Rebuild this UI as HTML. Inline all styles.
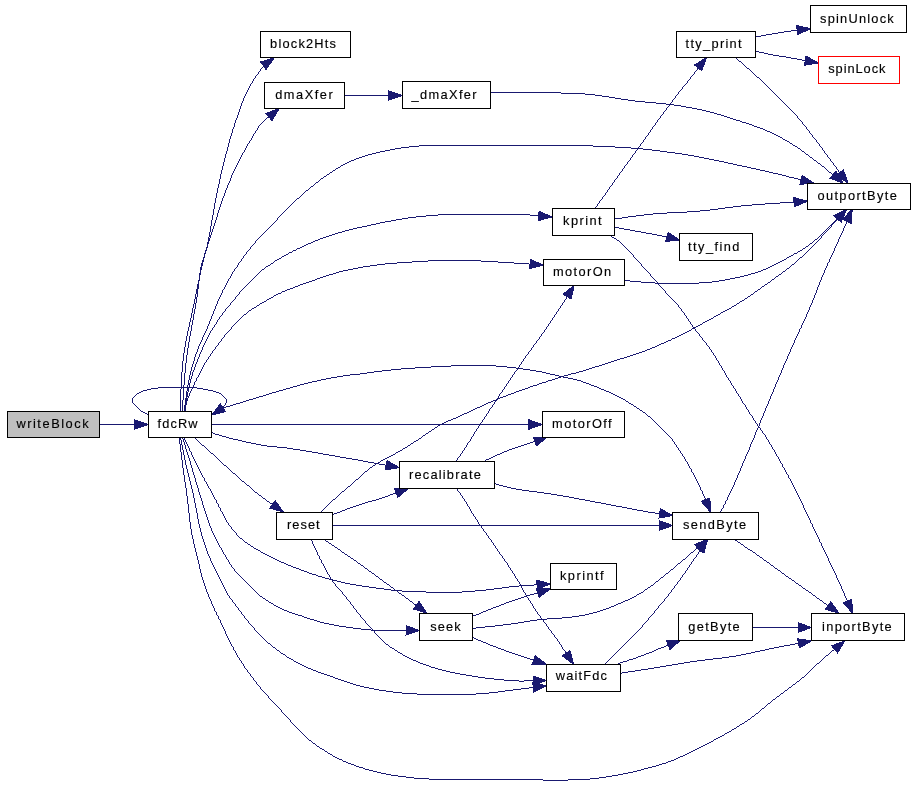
<!DOCTYPE html>
<html><head><meta charset="utf-8"><style>
html,body{margin:0;padding:0;background:#fff;width:915px;height:797px;overflow:hidden}
svg{display:block;will-change:transform}
text{font-family:"Liberation Sans",sans-serif;font-size:12.8px;fill:#000;stroke:#000;stroke-width:0.15px}
</style></head><body>
<svg width="915" height="797" viewBox="0 0 915 797">
<rect x="0" y="0" width="915" height="797" fill="#fff"/>

<g fill="none" stroke="#191970" stroke-width="1" shape-rendering="crispEdges">
</g>
<path fill="#191970" shape-rendering="crispEdges" d="M791 30h7v1h-7zM784 31h7v1h-7zM778 32h6v1h-6zM772 33h6v1h-6zM766 34h6v1h-6zM761 35h5v1h-5zM756 36h5v1h-5zM755 37h1v1h-1zM755 51h4v1h-4zM759 52h5v1h-5zM764 53h4v1h-4zM768 54h5v1h-5zM773 55h6v1h-6zM779 56h7v1h-7zM735 57h1v1h-1zM786 57h5v1h-5zM736 58h1v1h-1zM791 58h6v1h-6zM737 59h1v1h-1zM797 59h5v1h-5zM738 60h1v1h-1zM802 60h4v1h-4zM739 61h2v1h-2zM741 62h1v1h-1zM742 63h1v1h-1zM743 64h1v1h-1zM263 65h1v1h-1zM744 65h1v1h-1zM263 66h1v1h-1zM745 66h1v1h-1zM262 67h1v1h-1zM698 67h1v1h-1zM746 67h1v1h-1zM261 68h1v1h-1zM697 68h1v1h-1zM747 68h2v1h-2zM260 69h1v1h-1zM697 69h1v1h-1zM749 69h1v1h-1zM260 70h1v1h-1zM696 70h1v1h-1zM750 70h1v1h-1zM259 71h1v1h-1zM695 71h1v1h-1zM751 71h1v1h-1zM258 72h1v1h-1zM694 72h1v1h-1zM752 72h1v1h-1zM258 73h1v1h-1zM694 73h1v1h-1zM753 73h1v1h-1zM257 74h1v1h-1zM693 74h1v1h-1zM754 74h1v1h-1zM256 75h1v1h-1zM692 75h1v1h-1zM755 75h1v1h-1zM255 76h1v1h-1zM691 76h1v1h-1zM756 76h1v1h-1zM255 77h1v1h-1zM690 77h1v1h-1zM757 77h2v1h-2zM254 78h1v1h-1zM690 78h1v1h-1zM759 78h1v1h-1zM253 79h1v1h-1zM689 79h1v1h-1zM760 79h1v1h-1zM253 80h1v1h-1zM688 80h1v1h-1zM761 80h1v1h-1zM252 81h1v1h-1zM687 81h1v1h-1zM762 81h1v1h-1zM252 82h1v1h-1zM687 82h1v1h-1zM763 82h1v1h-1zM251 83h1v1h-1zM686 83h1v1h-1zM764 83h1v1h-1zM250 84h1v1h-1zM685 84h1v1h-1zM765 84h1v1h-1zM250 85h1v1h-1zM684 85h1v1h-1zM766 85h1v1h-1zM249 86h1v1h-1zM683 86h1v1h-1zM767 86h1v1h-1zM249 87h1v1h-1zM682 87h1v1h-1zM768 87h1v1h-1zM248 88h1v1h-1zM682 88h1v1h-1zM769 88h1v1h-1zM248 89h1v1h-1zM681 89h1v1h-1zM770 89h1v1h-1zM247 90h1v1h-1zM680 90h1v1h-1zM771 90h1v1h-1zM247 91h1v1h-1zM679 91h1v1h-1zM772 91h1v1h-1zM246 92h1v1h-1zM490 92h71v1h-71zM678 92h1v1h-1zM773 92h1v1h-1zM246 93h1v1h-1zM561 93h24v1h-24zM678 93h1v1h-1zM774 93h1v1h-1zM245 94h1v1h-1zM585 94h10v1h-10zM677 94h1v1h-1zM775 94h1v1h-1zM245 95h1v1h-1zM344 95h45v1h-45zM595 95h7v1h-7zM676 95h1v1h-1zM776 95h1v1h-1zM244 96h1v1h-1zM602 96h7v1h-7zM675 96h1v1h-1zM777 96h1v1h-1zM244 97h1v1h-1zM609 97h6v1h-6zM675 97h1v1h-1zM778 97h1v1h-1zM243 98h1v1h-1zM615 98h6v1h-6zM674 98h1v1h-1zM779 98h1v1h-1zM243 99h1v1h-1zM621 99h7v1h-7zM673 99h1v1h-1zM780 99h1v1h-1zM243 100h1v1h-1zM628 100h7v1h-7zM672 100h1v1h-1zM781 100h1v1h-1zM242 101h1v1h-1zM635 101h10v1h-10zM672 101h1v1h-1zM782 101h1v1h-1zM242 102h1v1h-1zM645 102h11v1h-11zM671 102h1v1h-1zM783 102h1v1h-1zM241 103h1v1h-1zM656 103h10v1h-10zM670 103h1v1h-1zM784 103h1v1h-1zM241 104h1v1h-1zM666 104h8v1h-8zM785 104h1v1h-1zM241 105h1v1h-1zM669 105h1v1h-1zM674 105h7v1h-7zM786 105h1v1h-1zM240 106h1v1h-1zM668 106h1v1h-1zM681 106h5v1h-5zM787 106h1v1h-1zM240 107h1v1h-1zM667 107h1v1h-1zM686 107h6v1h-6zM788 107h1v1h-1zM240 108h1v1h-1zM666 108h1v1h-1zM692 108h5v1h-5zM789 108h1v1h-1zM239 109h1v1h-1zM666 109h1v1h-1zM697 109h5v1h-5zM790 109h1v1h-1zM239 110h1v1h-1zM665 110h1v1h-1zM702 110h4v1h-4zM791 110h1v1h-1zM239 111h1v1h-1zM664 111h1v1h-1zM706 111h4v1h-4zM792 111h1v1h-1zM238 112h1v1h-1zM663 112h1v1h-1zM710 112h4v1h-4zM793 112h1v1h-1zM238 113h1v1h-1zM663 113h1v1h-1zM714 113h3v1h-3zM794 113h1v1h-1zM238 114h1v1h-1zM662 114h1v1h-1zM717 114h4v1h-4zM795 114h1v1h-1zM237 115h1v1h-1zM661 115h1v1h-1zM721 115h3v1h-3zM796 115h1v1h-1zM237 116h1v1h-1zM660 116h1v1h-1zM724 116h3v1h-3zM797 116h1v1h-1zM237 117h1v1h-1zM267 117h3v1h-3zM660 117h1v1h-1zM727 117h3v1h-3zM797 117h1v1h-1zM236 118h1v1h-1zM266 118h1v1h-1zM659 118h1v1h-1zM730 118h3v1h-3zM798 118h1v1h-1zM236 119h1v1h-1zM265 119h1v1h-1zM658 119h1v1h-1zM733 119h3v1h-3zM799 119h1v1h-1zM235 120h1v1h-1zM264 120h1v1h-1zM657 120h1v1h-1zM736 120h4v1h-4zM800 120h1v1h-1zM235 121h1v1h-1zM263 121h1v1h-1zM657 121h1v1h-1zM740 121h2v1h-2zM801 121h1v1h-1zM235 122h1v1h-1zM262 122h1v1h-1zM656 122h1v1h-1zM742 122h4v1h-4zM802 122h1v1h-1zM234 123h1v1h-1zM261 123h1v1h-1zM655 123h1v1h-1zM746 123h3v1h-3zM802 123h1v1h-1zM234 124h1v1h-1zM260 124h1v1h-1zM655 124h1v1h-1zM749 124h3v1h-3zM803 124h1v1h-1zM234 125h1v1h-1zM259 125h1v1h-1zM654 125h1v1h-1zM752 125h2v1h-2zM804 125h1v1h-1zM234 126h1v1h-1zM258 126h1v1h-1zM653 126h1v1h-1zM754 126h3v1h-3zM805 126h1v1h-1zM233 127h1v1h-1zM258 127h1v1h-1zM652 127h1v1h-1zM757 127h3v1h-3zM806 127h1v1h-1zM233 128h1v1h-1zM257 128h1v1h-1zM652 128h1v1h-1zM760 128h3v1h-3zM806 128h1v1h-1zM232 129h1v1h-1zM257 129h1v1h-1zM651 129h1v1h-1zM763 129h2v1h-2zM807 129h1v1h-1zM232 130h1v1h-1zM256 130h1v1h-1zM650 130h1v1h-1zM765 130h2v1h-2zM808 130h1v1h-1zM232 131h1v1h-1zM255 131h1v1h-1zM650 131h1v1h-1zM767 131h3v1h-3zM809 131h1v1h-1zM232 132h1v1h-1zM255 132h1v1h-1zM649 132h1v1h-1zM770 132h2v1h-2zM809 132h1v1h-1zM231 133h1v1h-1zM254 133h1v1h-1zM648 133h1v1h-1zM772 133h2v1h-2zM810 133h1v1h-1zM231 134h1v1h-1zM253 134h1v1h-1zM648 134h1v1h-1zM774 134h2v1h-2zM811 134h1v1h-1zM231 135h1v1h-1zM253 135h1v1h-1zM647 135h1v1h-1zM776 135h2v1h-2zM812 135h1v1h-1zM230 136h1v1h-1zM252 136h1v1h-1zM646 136h1v1h-1zM778 136h2v1h-2zM812 136h1v1h-1zM230 137h1v1h-1zM252 137h1v1h-1zM645 137h1v1h-1zM780 137h2v1h-2zM813 137h1v1h-1zM230 138h1v1h-1zM251 138h1v1h-1zM645 138h1v1h-1zM782 138h1v1h-1zM814 138h1v1h-1zM229 139h1v1h-1zM251 139h1v1h-1zM644 139h1v1h-1zM783 139h2v1h-2zM815 139h1v1h-1zM229 140h1v1h-1zM250 140h1v1h-1zM643 140h1v1h-1zM785 140h2v1h-2zM816 140h1v1h-1zM229 141h1v1h-1zM249 141h1v1h-1zM643 141h1v1h-1zM787 141h2v1h-2zM816 141h1v1h-1zM229 142h1v1h-1zM249 142h1v1h-1zM642 142h1v1h-1zM789 142h1v1h-1zM817 142h1v1h-1zM228 143h1v1h-1zM248 143h1v1h-1zM641 143h1v1h-1zM790 143h2v1h-2zM818 143h1v1h-1zM228 144h1v1h-1zM247 144h1v1h-1zM640 144h1v1h-1zM792 144h1v1h-1zM819 144h1v1h-1zM228 145h1v1h-1zM247 145h1v1h-1zM419 145h174v1h-174zM640 145h1v1h-1zM793 145h2v1h-2zM819 145h1v1h-1zM228 146h1v1h-1zM246 146h1v1h-1zM409 146h10v1h-10zM593 146h22v1h-22zM639 146h1v1h-1zM795 146h2v1h-2zM820 146h1v1h-1zM227 147h1v1h-1zM246 147h1v1h-1zM401 147h8v1h-8zM615 147h16v1h-16zM638 147h1v1h-1zM797 147h1v1h-1zM821 147h1v1h-1zM227 148h1v1h-1zM245 148h1v1h-1zM395 148h6v1h-6zM631 148h12v1h-12zM798 148h2v1h-2zM822 148h1v1h-1zM227 149h1v1h-1zM245 149h1v1h-1zM390 149h5v1h-5zM637 149h1v1h-1zM643 149h9v1h-9zM800 149h1v1h-1zM822 149h1v1h-1zM227 150h1v1h-1zM244 150h1v1h-1zM385 150h5v1h-5zM636 150h1v1h-1zM652 150h8v1h-8zM801 150h1v1h-1zM823 150h1v1h-1zM226 151h1v1h-1zM244 151h1v1h-1zM380 151h5v1h-5zM635 151h1v1h-1zM660 151h7v1h-7zM802 151h2v1h-2zM824 151h1v1h-1zM226 152h1v1h-1zM243 152h1v1h-1zM376 152h4v1h-4zM635 152h1v1h-1zM667 152h8v1h-8zM804 152h1v1h-1zM824 152h1v1h-1zM226 153h1v1h-1zM242 153h1v1h-1zM372 153h4v1h-4zM634 153h1v1h-1zM675 153h7v1h-7zM805 153h1v1h-1zM825 153h1v1h-1zM225 154h1v1h-1zM242 154h1v1h-1zM368 154h4v1h-4zM633 154h1v1h-1zM682 154h6v1h-6zM806 154h2v1h-2zM826 154h1v1h-1zM225 155h1v1h-1zM241 155h1v1h-1zM365 155h3v1h-3zM632 155h1v1h-1zM688 155h6v1h-6zM808 155h1v1h-1zM827 155h1v1h-1zM225 156h1v1h-1zM241 156h1v1h-1zM362 156h3v1h-3zM632 156h1v1h-1zM694 156h5v1h-5zM809 156h1v1h-1zM827 156h1v1h-1zM225 157h1v1h-1zM240 157h1v1h-1zM359 157h3v1h-3zM631 157h1v1h-1zM699 157h5v1h-5zM810 157h2v1h-2zM828 157h1v1h-1zM224 158h1v1h-1zM240 158h1v1h-1zM356 158h3v1h-3zM630 158h1v1h-1zM704 158h5v1h-5zM812 158h1v1h-1zM829 158h1v1h-1zM224 159h1v1h-1zM239 159h1v1h-1zM354 159h2v1h-2zM630 159h1v1h-1zM709 159h5v1h-5zM813 159h1v1h-1zM830 159h1v1h-1zM224 160h1v1h-1zM239 160h1v1h-1zM351 160h3v1h-3zM629 160h1v1h-1zM714 160h5v1h-5zM814 160h2v1h-2zM830 160h1v1h-1zM224 161h1v1h-1zM238 161h1v1h-1zM349 161h2v1h-2zM628 161h1v1h-1zM719 161h5v1h-5zM816 161h1v1h-1zM831 161h1v1h-1zM223 162h1v1h-1zM238 162h1v1h-1zM347 162h2v1h-2zM627 162h1v1h-1zM724 162h4v1h-4zM817 162h1v1h-1zM832 162h1v1h-1zM223 163h1v1h-1zM237 163h1v1h-1zM345 163h2v1h-2zM627 163h1v1h-1zM728 163h5v1h-5zM818 163h2v1h-2zM833 163h1v1h-1zM223 164h1v1h-1zM237 164h1v1h-1zM343 164h2v1h-2zM626 164h1v1h-1zM733 164h4v1h-4zM820 164h1v1h-1zM833 164h1v1h-1zM223 165h1v1h-1zM236 165h1v1h-1zM341 165h2v1h-2zM625 165h1v1h-1zM737 165h5v1h-5zM821 165h1v1h-1zM834 165h1v1h-1zM222 166h1v1h-1zM236 166h1v1h-1zM340 166h1v1h-1zM624 166h1v1h-1zM742 166h5v1h-5zM822 166h2v1h-2zM835 166h1v1h-1zM222 167h1v1h-1zM235 167h1v1h-1zM338 167h2v1h-2zM624 167h1v1h-1zM747 167h4v1h-4zM824 167h1v1h-1zM836 167h1v1h-1zM222 168h1v1h-1zM235 168h1v1h-1zM336 168h2v1h-2zM623 168h1v1h-1zM751 168h5v1h-5zM825 168h1v1h-1zM836 168h1v1h-1zM222 169h1v1h-1zM234 169h1v1h-1zM335 169h1v1h-1zM622 169h1v1h-1zM756 169h4v1h-4zM826 169h1v1h-1zM837 169h1v1h-1zM221 170h1v1h-1zM234 170h1v1h-1zM333 170h2v1h-2zM622 170h1v1h-1zM760 170h5v1h-5zM827 170h1v1h-1zM838 170h1v1h-1zM221 171h1v1h-1zM233 171h1v1h-1zM332 171h1v1h-1zM621 171h1v1h-1zM765 171h4v1h-4zM828 171h1v1h-1zM838 171h1v1h-1zM221 172h1v1h-1zM233 172h1v1h-1zM330 172h2v1h-2zM620 172h1v1h-1zM769 172h4v1h-4zM829 172h2v1h-2zM839 172h1v1h-1zM221 173h1v1h-1zM232 173h1v1h-1zM329 173h1v1h-1zM619 173h1v1h-1zM773 173h5v1h-5zM831 173h1v1h-1zM220 174h1v1h-1zM232 174h1v1h-1zM327 174h2v1h-2zM619 174h1v1h-1zM778 174h4v1h-4zM832 174h1v1h-1zM220 175h1v1h-1zM231 175h1v1h-1zM326 175h1v1h-1zM618 175h1v1h-1zM782 175h4v1h-4zM220 176h1v1h-1zM231 176h1v1h-1zM324 176h2v1h-2zM617 176h1v1h-1zM786 176h3v1h-3zM220 177h1v1h-1zM231 177h1v1h-1zM323 177h1v1h-1zM617 177h1v1h-1zM789 177h5v1h-5zM220 178h1v1h-1zM230 178h1v1h-1zM321 178h2v1h-2zM616 178h1v1h-1zM794 178h4v1h-4zM219 179h1v1h-1zM230 179h1v1h-1zM320 179h1v1h-1zM615 179h1v1h-1zM798 179h4v1h-4zM219 180h1v1h-1zM230 180h1v1h-1zM319 180h1v1h-1zM614 180h1v1h-1zM219 181h1v1h-1zM229 181h1v1h-1zM318 181h1v1h-1zM614 181h1v1h-1zM219 182h1v1h-1zM229 182h1v1h-1zM316 182h2v1h-2zM613 182h1v1h-1zM219 183h1v1h-1zM228 183h1v1h-1zM315 183h1v1h-1zM612 183h1v1h-1zM218 184h1v1h-1zM228 184h1v1h-1zM314 184h1v1h-1zM612 184h1v1h-1zM218 185h1v1h-1zM227 185h1v1h-1zM313 185h1v1h-1zM611 185h1v1h-1zM218 186h1v1h-1zM227 186h1v1h-1zM311 186h2v1h-2zM610 186h1v1h-1zM218 187h1v1h-1zM227 187h1v1h-1zM310 187h1v1h-1zM609 187h1v1h-1zM217 188h1v1h-1zM226 188h1v1h-1zM309 188h1v1h-1zM609 188h1v1h-1zM217 189h1v1h-1zM226 189h1v1h-1zM308 189h1v1h-1zM608 189h1v1h-1zM217 190h1v1h-1zM225 190h1v1h-1zM306 190h2v1h-2zM607 190h1v1h-1zM217 191h1v1h-1zM225 191h1v1h-1zM305 191h1v1h-1zM607 191h1v1h-1zM217 192h1v1h-1zM225 192h1v1h-1zM304 192h1v1h-1zM606 192h1v1h-1zM216 193h1v1h-1zM224 193h1v1h-1zM303 193h1v1h-1zM605 193h1v1h-1zM216 194h1v1h-1zM224 194h1v1h-1zM302 194h1v1h-1zM605 194h1v1h-1zM216 195h1v1h-1zM224 195h1v1h-1zM301 195h1v1h-1zM604 195h1v1h-1zM216 196h1v1h-1zM223 196h1v1h-1zM300 196h1v1h-1zM603 196h1v1h-1zM216 197h1v1h-1zM223 197h1v1h-1zM299 197h1v1h-1zM602 197h1v1h-1zM215 198h1v1h-1zM222 198h1v1h-1zM297 198h2v1h-2zM602 198h1v1h-1zM215 199h1v1h-1zM222 199h1v1h-1zM296 199h1v1h-1zM601 199h1v1h-1zM215 200h1v1h-1zM222 200h1v1h-1zM295 200h1v1h-1zM600 200h1v1h-1zM215 201h1v1h-1zM221 201h1v1h-1zM294 201h1v1h-1zM599 201h1v1h-1zM215 202h1v1h-1zM221 202h1v1h-1zM293 202h1v1h-1zM599 202h1v1h-1zM780 202h15v1h-15zM214 203h1v1h-1zM221 203h1v1h-1zM292 203h1v1h-1zM598 203h1v1h-1zM765 203h15v1h-15zM214 204h1v1h-1zM220 204h1v1h-1zM291 204h1v1h-1zM597 204h1v1h-1zM752 204h13v1h-13zM214 205h1v1h-1zM220 205h1v1h-1zM290 205h1v1h-1zM597 205h1v1h-1zM741 205h11v1h-11zM214 206h1v1h-1zM220 206h1v1h-1zM289 206h1v1h-1zM596 206h1v1h-1zM733 206h8v1h-8zM214 207h1v1h-1zM219 207h1v1h-1zM288 207h1v1h-1zM595 207h1v1h-1zM725 207h8v1h-8zM214 208h1v1h-1zM219 208h1v1h-1zM287 208h1v1h-1zM594 208h1v1h-1zM718 208h7v1h-7zM213 209h1v1h-1zM219 209h1v1h-1zM286 209h1v1h-1zM710 209h8v1h-8zM213 210h1v1h-1zM218 210h1v1h-1zM285 210h1v1h-1zM700 210h10v1h-10zM213 211h1v1h-1zM218 211h1v1h-1zM284 211h1v1h-1zM687 211h13v1h-13zM213 212h1v1h-1zM218 212h1v1h-1zM283 212h1v1h-1zM667 212h20v1h-20zM213 213h1v1h-1zM217 213h1v1h-1zM282 213h1v1h-1zM653 213h14v1h-14zM213 214h1v1h-1zM217 214h1v1h-1zM281 214h1v1h-1zM438 214h92v1h-92zM644 214h9v1h-9zM212 215h1v1h-1zM217 215h1v1h-1zM280 215h1v1h-1zM426 215h12v1h-12zM530 215h9v1h-9zM636 215h8v1h-8zM212 216h1v1h-1zM217 216h1v1h-1zM279 216h1v1h-1zM416 216h10v1h-10zM628 216h8v1h-8zM212 217h1v1h-1zM216 217h1v1h-1zM278 217h1v1h-1zM408 217h8v1h-8zM622 217h6v1h-6zM212 218h1v1h-1zM216 218h1v1h-1zM277 218h1v1h-1zM402 218h6v1h-6zM615 218h7v1h-7zM837 218h1v1h-1zM212 219h1v1h-1zM216 219h1v1h-1zM277 219h1v1h-1zM396 219h6v1h-6zM614 219h1v1h-1zM836 219h2v1h-2zM211 220h1v1h-1zM215 220h1v1h-1zM276 220h1v1h-1zM391 220h5v1h-5zM835 220h2v1h-2zM211 221h1v1h-1zM215 221h1v1h-1zM275 221h1v1h-1zM385 221h6v1h-6zM834 221h2v1h-2zM846 221h1v1h-1zM211 222h1v1h-1zM215 222h1v1h-1zM274 222h1v1h-1zM380 222h5v1h-5zM833 222h2v1h-2zM846 222h1v1h-1zM211 223h1v1h-1zM214 223h1v1h-1zM273 223h1v1h-1zM376 223h4v1h-4zM832 223h2v1h-2zM846 223h1v1h-1zM211 224h1v1h-1zM214 224h1v1h-1zM272 224h1v1h-1zM371 224h5v1h-5zM831 224h2v1h-2zM845 224h1v1h-1zM211 225h1v1h-1zM214 225h1v1h-1zM271 225h1v1h-1zM367 225h4v1h-4zM830 225h2v1h-2zM845 225h1v1h-1zM210 226h1v1h-1zM213 226h1v1h-1zM270 226h1v1h-1zM362 226h5v1h-5zM829 226h1v1h-1zM831 226h1v1h-1zM844 226h1v1h-1zM210 227h1v1h-1zM213 227h1v1h-1zM269 227h1v1h-1zM357 227h5v1h-5zM614 227h5v1h-5zM828 227h1v1h-1zM830 227h1v1h-1zM844 227h1v1h-1zM210 228h1v1h-1zM213 228h1v1h-1zM268 228h1v1h-1zM353 228h4v1h-4zM619 228h5v1h-5zM827 228h1v1h-1zM829 228h1v1h-1zM843 228h1v1h-1zM210 229h1v1h-1zM212 229h1v1h-1zM267 229h1v1h-1zM349 229h4v1h-4zM624 229h6v1h-6zM826 229h1v1h-1zM828 229h1v1h-1zM843 229h1v1h-1zM210 230h1v1h-1zM212 230h1v1h-1zM266 230h1v1h-1zM345 230h4v1h-4zM630 230h5v1h-5zM825 230h1v1h-1zM827 230h1v1h-1zM843 230h1v1h-1zM210 231h1v1h-1zM212 231h1v1h-1zM265 231h1v1h-1zM342 231h3v1h-3zM635 231h6v1h-6zM824 231h1v1h-1zM826 231h1v1h-1zM842 231h1v1h-1zM209 232h1v1h-1zM211 232h1v1h-1zM264 232h1v1h-1zM338 232h4v1h-4zM641 232h5v1h-5zM823 232h1v1h-1zM825 232h1v1h-1zM842 232h1v1h-1zM209 233h1v1h-1zM211 233h1v1h-1zM263 233h1v1h-1zM335 233h3v1h-3zM646 233h6v1h-6zM822 233h1v1h-1zM824 233h1v1h-1zM841 233h1v1h-1zM209 234h1v1h-1zM211 234h1v1h-1zM262 234h1v1h-1zM332 234h3v1h-3zM652 234h5v1h-5zM821 234h1v1h-1zM823 234h1v1h-1zM841 234h1v1h-1zM209 235h2v1h-2zM261 235h1v1h-1zM329 235h3v1h-3zM657 235h5v1h-5zM820 235h1v1h-1zM822 235h1v1h-1zM840 235h1v1h-1zM209 236h2v1h-2zM260 236h1v1h-1zM326 236h3v1h-3zM611 236h1v1h-1zM662 236h5v1h-5zM819 236h1v1h-1zM821 236h1v1h-1zM840 236h1v1h-1zM208 237h1v1h-1zM210 237h1v1h-1zM259 237h1v1h-1zM323 237h3v1h-3zM612 237h2v1h-2zM818 237h1v1h-1zM821 237h1v1h-1zM839 237h1v1h-1zM208 238h2v1h-2zM258 238h1v1h-1zM320 238h3v1h-3zM614 238h2v1h-2zM817 238h1v1h-1zM820 238h1v1h-1zM839 238h1v1h-1zM208 239h2v1h-2zM257 239h1v1h-1zM318 239h2v1h-2zM616 239h1v1h-1zM815 239h2v1h-2zM819 239h1v1h-1zM838 239h1v1h-1zM208 240h2v1h-2zM256 240h1v1h-1zM315 240h3v1h-3zM617 240h2v1h-2zM814 240h1v1h-1zM818 240h1v1h-1zM838 240h1v1h-1zM208 241h1v1h-1zM255 241h1v1h-1zM313 241h2v1h-2zM619 241h1v1h-1zM813 241h1v1h-1zM817 241h1v1h-1zM838 241h1v1h-1zM207 242h2v1h-2zM255 242h1v1h-1zM311 242h2v1h-2zM620 242h1v1h-1zM812 242h1v1h-1zM816 242h1v1h-1zM837 242h1v1h-1zM207 243h2v1h-2zM254 243h1v1h-1zM308 243h3v1h-3zM621 243h1v1h-1zM810 243h2v1h-2zM815 243h1v1h-1zM837 243h1v1h-1zM207 244h1v1h-1zM253 244h1v1h-1zM306 244h2v1h-2zM622 244h1v1h-1zM809 244h1v1h-1zM814 244h1v1h-1zM836 244h1v1h-1zM207 245h1v1h-1zM252 245h1v1h-1zM304 245h2v1h-2zM623 245h1v1h-1zM808 245h1v1h-1zM813 245h1v1h-1zM836 245h1v1h-1zM207 246h1v1h-1zM251 246h1v1h-1zM302 246h2v1h-2zM624 246h1v1h-1zM806 246h2v1h-2zM812 246h1v1h-1zM835 246h1v1h-1zM206 247h2v1h-2zM250 247h1v1h-1zM300 247h2v1h-2zM625 247h1v1h-1zM805 247h1v1h-1zM811 247h1v1h-1zM835 247h1v1h-1zM206 248h1v1h-1zM250 248h1v1h-1zM297 248h3v1h-3zM626 248h1v1h-1zM803 248h2v1h-2zM810 248h1v1h-1zM834 248h1v1h-1zM206 249h1v1h-1zM249 249h1v1h-1zM296 249h1v1h-1zM627 249h1v1h-1zM802 249h1v1h-1zM809 249h1v1h-1zM834 249h1v1h-1zM205 250h2v1h-2zM248 250h1v1h-1zM293 250h3v1h-3zM628 250h1v1h-1zM800 250h2v1h-2zM808 250h1v1h-1zM834 250h1v1h-1zM205 251h1v1h-1zM247 251h1v1h-1zM292 251h1v1h-1zM629 251h1v1h-1zM798 251h2v1h-2zM807 251h1v1h-1zM833 251h1v1h-1zM205 252h1v1h-1zM246 252h1v1h-1zM289 252h3v1h-3zM630 252h1v1h-1zM797 252h1v1h-1zM806 252h1v1h-1zM833 252h1v1h-1zM204 253h2v1h-2zM246 253h1v1h-1zM288 253h1v1h-1zM631 253h1v1h-1zM794 253h3v1h-3zM805 253h1v1h-1zM832 253h1v1h-1zM204 254h1v1h-1zM245 254h1v1h-1zM286 254h2v1h-2zM632 254h1v1h-1zM793 254h1v1h-1zM804 254h1v1h-1zM832 254h1v1h-1zM204 255h1v1h-1zM244 255h1v1h-1zM284 255h2v1h-2zM633 255h1v1h-1zM791 255h2v1h-2zM803 255h1v1h-1zM831 255h1v1h-1zM204 256h1v1h-1zM243 256h1v1h-1zM282 256h2v1h-2zM633 256h1v1h-1zM789 256h2v1h-2zM802 256h1v1h-1zM831 256h1v1h-1zM203 257h2v1h-2zM243 257h1v1h-1zM281 257h1v1h-1zM634 257h1v1h-1zM787 257h2v1h-2zM800 257h2v1h-2zM830 257h1v1h-1zM203 258h1v1h-1zM242 258h1v1h-1zM279 258h2v1h-2zM635 258h1v1h-1zM786 258h1v1h-1zM799 258h1v1h-1zM830 258h1v1h-1zM203 259h1v1h-1zM241 259h1v1h-1zM277 259h2v1h-2zM636 259h1v1h-1zM784 259h2v1h-2zM798 259h1v1h-1zM829 259h1v1h-1zM202 260h2v1h-2zM241 260h1v1h-1zM275 260h2v1h-2zM428 260h53v1h-53zM637 260h1v1h-1zM782 260h2v1h-2zM797 260h1v1h-1zM829 260h1v1h-1zM202 261h2v1h-2zM240 261h1v1h-1zM274 261h1v1h-1zM412 261h16v1h-16zM481 261h17v1h-17zM638 261h1v1h-1zM780 261h2v1h-2zM796 261h1v1h-1zM829 261h1v1h-1zM202 262h1v1h-1zM239 262h1v1h-1zM273 262h1v1h-1zM397 262h15v1h-15zM498 262h16v1h-16zM639 262h1v1h-1zM778 262h2v1h-2zM795 262h1v1h-1zM828 262h1v1h-1zM201 263h2v1h-2zM238 263h1v1h-1zM271 263h2v1h-2zM385 263h12v1h-12zM514 263h15v1h-15zM640 263h1v1h-1zM776 263h2v1h-2zM794 263h1v1h-1zM827 263h1v1h-1zM201 264h2v1h-2zM238 264h1v1h-1zM270 264h1v1h-1zM377 264h8v1h-8zM529 264h2v1h-2zM641 264h1v1h-1zM774 264h2v1h-2zM792 264h2v1h-2zM827 264h1v1h-1zM201 265h2v1h-2zM237 265h1v1h-1zM268 265h2v1h-2zM370 265h7v1h-7zM641 265h1v1h-1zM772 265h2v1h-2zM791 265h1v1h-1zM827 265h1v1h-1zM201 266h1v1h-1zM237 266h1v1h-1zM266 266h2v1h-2zM363 266h7v1h-7zM642 266h1v1h-1zM770 266h2v1h-2zM790 266h1v1h-1zM826 266h1v1h-1zM200 267h2v1h-2zM236 267h1v1h-1zM265 267h1v1h-1zM358 267h5v1h-5zM643 267h1v1h-1zM768 267h2v1h-2zM789 267h1v1h-1zM826 267h1v1h-1zM200 268h2v1h-2zM235 268h1v1h-1zM264 268h1v1h-1zM353 268h5v1h-5zM644 268h1v1h-1zM766 268h2v1h-2zM787 268h2v1h-2zM825 268h1v1h-1zM200 269h2v1h-2zM234 269h1v1h-1zM262 269h2v1h-2zM348 269h5v1h-5zM645 269h1v1h-1zM763 269h3v1h-3zM786 269h1v1h-1zM825 269h1v1h-1zM200 270h1v1h-1zM234 270h1v1h-1zM261 270h1v1h-1zM343 270h5v1h-5zM646 270h1v1h-1zM761 270h2v1h-2zM785 270h1v1h-1zM824 270h1v1h-1zM200 271h1v1h-1zM233 271h1v1h-1zM260 271h1v1h-1zM339 271h4v1h-4zM647 271h1v1h-1zM758 271h3v1h-3zM783 271h2v1h-2zM824 271h1v1h-1zM200 272h1v1h-1zM232 272h1v1h-1zM259 272h1v1h-1zM336 272h3v1h-3zM648 272h1v1h-1zM755 272h3v1h-3zM782 272h1v1h-1zM824 272h1v1h-1zM199 273h2v1h-2zM232 273h1v1h-1zM258 273h1v1h-1zM333 273h3v1h-3zM649 273h1v1h-1zM751 273h4v1h-4zM781 273h1v1h-1zM823 273h1v1h-1zM199 274h2v1h-2zM231 274h1v1h-1zM257 274h1v1h-1zM329 274h4v1h-4zM650 274h1v1h-1zM748 274h3v1h-3zM779 274h2v1h-2zM823 274h1v1h-1zM199 275h1v1h-1zM231 275h1v1h-1zM256 275h1v1h-1zM326 275h3v1h-3zM650 275h1v1h-1zM744 275h4v1h-4zM778 275h1v1h-1zM822 275h1v1h-1zM199 276h1v1h-1zM230 276h1v1h-1zM255 276h1v1h-1zM323 276h3v1h-3zM651 276h1v1h-1zM740 276h4v1h-4zM776 276h2v1h-2zM822 276h1v1h-1zM199 277h1v1h-1zM230 277h1v1h-1zM254 277h1v1h-1zM320 277h3v1h-3zM652 277h1v1h-1zM735 277h5v1h-5zM775 277h1v1h-1zM821 277h1v1h-1zM199 278h1v1h-1zM229 278h1v1h-1zM253 278h1v1h-1zM317 278h3v1h-3zM653 278h1v1h-1zM730 278h5v1h-5zM774 278h1v1h-1zM821 278h1v1h-1zM199 279h1v1h-1zM228 279h1v1h-1zM252 279h1v1h-1zM315 279h2v1h-2zM654 279h1v1h-1zM725 279h5v1h-5zM772 279h2v1h-2zM821 279h1v1h-1zM198 280h2v1h-2zM228 280h1v1h-1zM251 280h1v1h-1zM312 280h3v1h-3zM624 280h6v1h-6zM655 280h1v1h-1zM719 280h6v1h-6zM771 280h1v1h-1zM820 280h1v1h-1zM198 281h1v1h-1zM227 281h1v1h-1zM250 281h1v1h-1zM309 281h3v1h-3zM630 281h11v1h-11zM656 281h1v1h-1zM712 281h7v1h-7zM770 281h1v1h-1zM820 281h1v1h-1zM198 282h1v1h-1zM227 282h1v1h-1zM249 282h1v1h-1zM306 282h3v1h-3zM641 282h14v1h-14zM657 282h1v1h-1zM699 282h13v1h-13zM768 282h2v1h-2zM819 282h1v1h-1zM198 283h1v1h-1zM226 283h1v1h-1zM248 283h1v1h-1zM303 283h3v1h-3zM655 283h44v1h-44zM767 283h1v1h-1zM819 283h1v1h-1zM197 284h2v1h-2zM226 284h1v1h-1zM247 284h1v1h-1zM300 284h3v1h-3zM658 284h1v1h-1zM765 284h2v1h-2zM819 284h1v1h-1zM197 285h2v1h-2zM225 285h1v1h-1zM246 285h1v1h-1zM298 285h2v1h-2zM659 285h1v1h-1zM764 285h1v1h-1zM818 285h1v1h-1zM197 286h2v1h-2zM225 286h1v1h-1zM245 286h1v1h-1zM295 286h3v1h-3zM660 286h1v1h-1zM762 286h2v1h-2zM818 286h1v1h-1zM197 287h2v1h-2zM224 287h1v1h-1zM244 287h1v1h-1zM293 287h2v1h-2zM661 287h1v1h-1zM761 287h1v1h-1zM817 287h1v1h-1zM197 288h2v1h-2zM224 288h1v1h-1zM243 288h1v1h-1zM290 288h3v1h-3zM662 288h1v1h-1zM760 288h1v1h-1zM817 288h1v1h-1zM196 289h2v1h-2zM223 289h1v1h-1zM242 289h1v1h-1zM287 289h3v1h-3zM663 289h1v1h-1zM758 289h2v1h-2zM817 289h1v1h-1zM196 290h2v1h-2zM222 290h1v1h-1zM241 290h1v1h-1zM285 290h2v1h-2zM664 290h1v1h-1zM757 290h1v1h-1zM816 290h1v1h-1zM196 291h2v1h-2zM222 291h1v1h-1zM240 291h1v1h-1zM282 291h3v1h-3zM665 291h1v1h-1zM755 291h2v1h-2zM816 291h1v1h-1zM196 292h2v1h-2zM222 292h1v1h-1zM239 292h1v1h-1zM281 292h1v1h-1zM665 292h1v1h-1zM754 292h1v1h-1zM816 292h1v1h-1zM196 293h2v1h-2zM221 293h1v1h-1zM239 293h1v1h-1zM278 293h3v1h-3zM666 293h1v1h-1zM753 293h1v1h-1zM815 293h1v1h-1zM195 294h1v1h-1zM197 294h1v1h-1zM221 294h1v1h-1zM238 294h1v1h-1zM276 294h2v1h-2zM667 294h1v1h-1zM751 294h2v1h-2zM815 294h1v1h-1zM195 295h1v1h-1zM197 295h1v1h-1zM220 295h1v1h-1zM237 295h1v1h-1zM274 295h2v1h-2zM668 295h1v1h-1zM750 295h1v1h-1zM814 295h1v1h-1zM195 296h1v1h-1zM197 296h1v1h-1zM220 296h1v1h-1zM236 296h1v1h-1zM273 296h1v1h-1zM567 296h1v1h-1zM669 296h1v1h-1zM748 296h2v1h-2zM814 296h1v1h-1zM195 297h2v1h-2zM219 297h1v1h-1zM235 297h1v1h-1zM271 297h2v1h-2zM566 297h1v1h-1zM670 297h1v1h-1zM747 297h1v1h-1zM814 297h1v1h-1zM195 298h2v1h-2zM219 298h1v1h-1zM235 298h1v1h-1zM269 298h2v1h-2zM566 298h1v1h-1zM671 298h1v1h-1zM745 298h2v1h-2zM813 298h1v1h-1zM194 299h1v1h-1zM196 299h1v1h-1zM218 299h1v1h-1zM234 299h1v1h-1zM267 299h2v1h-2zM565 299h1v1h-1zM672 299h1v1h-1zM744 299h1v1h-1zM813 299h1v1h-1zM194 300h1v1h-1zM196 300h1v1h-1zM218 300h1v1h-1zM233 300h1v1h-1zM266 300h1v1h-1zM564 300h1v1h-1zM673 300h1v1h-1zM742 300h2v1h-2zM812 300h1v1h-1zM194 301h1v1h-1zM196 301h1v1h-1zM217 301h1v1h-1zM232 301h1v1h-1zM264 301h2v1h-2zM564 301h1v1h-1zM674 301h1v1h-1zM740 301h2v1h-2zM812 301h1v1h-1zM194 302h1v1h-1zM196 302h1v1h-1zM217 302h1v1h-1zM231 302h1v1h-1zM262 302h2v1h-2zM563 302h1v1h-1zM675 302h1v1h-1zM739 302h1v1h-1zM812 302h1v1h-1zM194 303h2v1h-2zM217 303h1v1h-1zM230 303h1v1h-1zM260 303h2v1h-2zM562 303h1v1h-1zM676 303h1v1h-1zM737 303h2v1h-2zM811 303h1v1h-1zM193 304h1v1h-1zM195 304h1v1h-1zM216 304h1v1h-1zM230 304h1v1h-1zM259 304h1v1h-1zM562 304h1v1h-1zM677 304h1v1h-1zM736 304h1v1h-1zM811 304h1v1h-1zM193 305h1v1h-1zM195 305h1v1h-1zM216 305h1v1h-1zM229 305h1v1h-1zM257 305h2v1h-2zM561 305h1v1h-1zM678 305h1v1h-1zM734 305h2v1h-2zM810 305h1v1h-1zM193 306h1v1h-1zM195 306h1v1h-1zM215 306h1v1h-1zM228 306h1v1h-1zM256 306h1v1h-1zM560 306h1v1h-1zM678 306h1v1h-1zM732 306h2v1h-2zM810 306h1v1h-1zM193 307h1v1h-1zM195 307h1v1h-1zM215 307h1v1h-1zM227 307h1v1h-1zM254 307h2v1h-2zM560 307h1v1h-1zM679 307h1v1h-1zM731 307h1v1h-1zM809 307h1v1h-1zM192 308h1v1h-1zM195 308h1v1h-1zM215 308h1v1h-1zM226 308h1v1h-1zM252 308h2v1h-2zM559 308h1v1h-1zM680 308h1v1h-1zM729 308h2v1h-2zM809 308h1v1h-1zM192 309h1v1h-1zM194 309h1v1h-1zM214 309h1v1h-1zM225 309h1v1h-1zM251 309h1v1h-1zM558 309h1v1h-1zM681 309h1v1h-1zM727 309h2v1h-2zM809 309h1v1h-1zM192 310h1v1h-1zM194 310h1v1h-1zM214 310h1v1h-1zM225 310h1v1h-1zM249 310h2v1h-2zM558 310h1v1h-1zM681 310h1v1h-1zM725 310h2v1h-2zM808 310h1v1h-1zM192 311h1v1h-1zM194 311h1v1h-1zM213 311h1v1h-1zM224 311h1v1h-1zM248 311h1v1h-1zM557 311h1v1h-1zM682 311h1v1h-1zM723 311h2v1h-2zM808 311h1v1h-1zM192 312h1v1h-1zM194 312h1v1h-1zM213 312h1v1h-1zM223 312h1v1h-1zM247 312h1v1h-1zM556 312h1v1h-1zM683 312h1v1h-1zM721 312h2v1h-2zM807 312h1v1h-1zM191 313h1v1h-1zM194 313h1v1h-1zM213 313h1v1h-1zM222 313h1v1h-1zM246 313h1v1h-1zM556 313h1v1h-1zM684 313h1v1h-1zM720 313h1v1h-1zM807 313h1v1h-1zM191 314h1v1h-1zM193 314h1v1h-1zM212 314h1v1h-1zM222 314h1v1h-1zM244 314h2v1h-2zM555 314h1v1h-1zM684 314h1v1h-1zM718 314h2v1h-2zM806 314h1v1h-1zM191 315h1v1h-1zM193 315h1v1h-1zM212 315h1v1h-1zM221 315h1v1h-1zM243 315h1v1h-1zM554 315h1v1h-1zM685 315h1v1h-1zM716 315h2v1h-2zM806 315h1v1h-1zM191 316h1v1h-1zM193 316h1v1h-1zM211 316h1v1h-1zM220 316h1v1h-1zM242 316h1v1h-1zM554 316h1v1h-1zM686 316h1v1h-1zM714 316h2v1h-2zM806 316h1v1h-1zM191 317h1v1h-1zM193 317h1v1h-1zM211 317h1v1h-1zM219 317h1v1h-1zM241 317h1v1h-1zM553 317h1v1h-1zM686 317h1v1h-1zM713 317h1v1h-1zM805 317h1v1h-1zM190 318h1v1h-1zM193 318h1v1h-1zM211 318h1v1h-1zM219 318h1v1h-1zM240 318h1v1h-1zM552 318h1v1h-1zM687 318h1v1h-1zM711 318h2v1h-2zM805 318h1v1h-1zM190 319h1v1h-1zM193 319h1v1h-1zM210 319h1v1h-1zM218 319h1v1h-1zM239 319h1v1h-1zM552 319h1v1h-1zM688 319h1v1h-1zM709 319h2v1h-2zM804 319h1v1h-1zM190 320h1v1h-1zM192 320h1v1h-1zM210 320h1v1h-1zM217 320h1v1h-1zM238 320h1v1h-1zM551 320h1v1h-1zM688 320h1v1h-1zM707 320h2v1h-2zM804 320h1v1h-1zM190 321h1v1h-1zM192 321h1v1h-1zM209 321h1v1h-1zM217 321h1v1h-1zM237 321h1v1h-1zM550 321h1v1h-1zM689 321h1v1h-1zM705 321h2v1h-2zM803 321h1v1h-1zM189 322h1v1h-1zM192 322h1v1h-1zM209 322h1v1h-1zM216 322h1v1h-1zM236 322h1v1h-1zM550 322h1v1h-1zM690 322h1v1h-1zM703 322h2v1h-2zM803 322h1v1h-1zM189 323h1v1h-1zM192 323h1v1h-1zM209 323h1v1h-1zM216 323h1v1h-1zM235 323h1v1h-1zM549 323h1v1h-1zM690 323h1v1h-1zM702 323h1v1h-1zM802 323h1v1h-1zM189 324h1v1h-1zM192 324h1v1h-1zM208 324h1v1h-1zM215 324h1v1h-1zM234 324h1v1h-1zM548 324h1v1h-1zM691 324h1v1h-1zM700 324h2v1h-2zM802 324h1v1h-1zM189 325h1v1h-1zM191 325h1v1h-1zM208 325h1v1h-1zM214 325h1v1h-1zM233 325h1v1h-1zM548 325h1v1h-1zM692 325h1v1h-1zM698 325h2v1h-2zM801 325h1v1h-1zM189 326h1v1h-1zM191 326h1v1h-1zM207 326h1v1h-1zM214 326h1v1h-1zM232 326h1v1h-1zM547 326h1v1h-1zM692 326h1v1h-1zM696 326h2v1h-2zM801 326h1v1h-1zM188 327h1v1h-1zM191 327h1v1h-1zM207 327h1v1h-1zM213 327h1v1h-1zM231 327h1v1h-1zM546 327h1v1h-1zM693 327h3v1h-3zM801 327h1v1h-1zM188 328h1v1h-1zM191 328h1v1h-1zM207 328h1v1h-1zM212 328h1v1h-1zM231 328h1v1h-1zM546 328h1v1h-1zM692 328h3v1h-3zM800 328h1v1h-1zM188 329h1v1h-1zM191 329h1v1h-1zM206 329h1v1h-1zM212 329h1v1h-1zM230 329h1v1h-1zM545 329h1v1h-1zM691 329h1v1h-1zM695 329h1v1h-1zM799 329h1v1h-1zM188 330h1v1h-1zM191 330h1v1h-1zM206 330h1v1h-1zM211 330h1v1h-1zM229 330h1v1h-1zM544 330h1v1h-1zM689 330h2v1h-2zM695 330h1v1h-1zM799 330h1v1h-1zM187 331h1v1h-1zM190 331h1v1h-1zM205 331h1v1h-1zM210 331h1v1h-1zM228 331h1v1h-1zM544 331h1v1h-1zM687 331h2v1h-2zM696 331h1v1h-1zM799 331h1v1h-1zM187 332h1v1h-1zM190 332h1v1h-1zM205 332h1v1h-1zM210 332h1v1h-1zM227 332h1v1h-1zM543 332h1v1h-1zM685 332h2v1h-2zM697 332h1v1h-1zM798 332h1v1h-1zM187 333h1v1h-1zM190 333h1v1h-1zM204 333h1v1h-1zM209 333h1v1h-1zM226 333h1v1h-1zM542 333h1v1h-1zM683 333h2v1h-2zM698 333h1v1h-1zM798 333h1v1h-1zM187 334h1v1h-1zM190 334h1v1h-1zM204 334h1v1h-1zM209 334h1v1h-1zM225 334h1v1h-1zM541 334h1v1h-1zM681 334h2v1h-2zM699 334h1v1h-1zM797 334h1v1h-1zM187 335h1v1h-1zM190 335h1v1h-1zM203 335h1v1h-1zM208 335h1v1h-1zM224 335h1v1h-1zM541 335h1v1h-1zM679 335h2v1h-2zM699 335h1v1h-1zM797 335h1v1h-1zM186 336h1v1h-1zM189 336h1v1h-1zM203 336h1v1h-1zM208 336h1v1h-1zM224 336h1v1h-1zM540 336h1v1h-1zM677 336h2v1h-2zM700 336h1v1h-1zM796 336h1v1h-1zM186 337h1v1h-1zM189 337h1v1h-1zM202 337h1v1h-1zM207 337h1v1h-1zM223 337h1v1h-1zM539 337h1v1h-1zM675 337h2v1h-2zM701 337h1v1h-1zM796 337h1v1h-1zM186 338h1v1h-1zM189 338h1v1h-1zM202 338h1v1h-1zM207 338h1v1h-1zM222 338h1v1h-1zM539 338h1v1h-1zM672 338h3v1h-3zM702 338h1v1h-1zM795 338h1v1h-1zM186 339h1v1h-1zM189 339h1v1h-1zM202 339h1v1h-1zM206 339h1v1h-1zM221 339h1v1h-1zM538 339h1v1h-1zM671 339h1v1h-1zM702 339h1v1h-1zM795 339h1v1h-1zM186 340h1v1h-1zM189 340h1v1h-1zM201 340h1v1h-1zM206 340h1v1h-1zM221 340h1v1h-1zM537 340h1v1h-1zM668 340h3v1h-3zM703 340h1v1h-1zM794 340h1v1h-1zM185 341h1v1h-1zM189 341h1v1h-1zM201 341h1v1h-1zM205 341h1v1h-1zM220 341h1v1h-1zM536 341h1v1h-1zM666 341h2v1h-2zM704 341h1v1h-1zM794 341h1v1h-1zM185 342h1v1h-1zM188 342h1v1h-1zM200 342h1v1h-1zM205 342h1v1h-1zM219 342h1v1h-1zM536 342h1v1h-1zM664 342h2v1h-2zM705 342h1v1h-1zM794 342h1v1h-1zM185 343h1v1h-1zM188 343h1v1h-1zM200 343h1v1h-1zM204 343h1v1h-1zM218 343h1v1h-1zM535 343h1v1h-1zM661 343h3v1h-3zM706 343h1v1h-1zM793 343h1v1h-1zM185 344h1v1h-1zM188 344h1v1h-1zM199 344h1v1h-1zM204 344h1v1h-1zM218 344h1v1h-1zM534 344h1v1h-1zM659 344h2v1h-2zM706 344h1v1h-1zM793 344h1v1h-1zM185 345h1v1h-1zM188 345h1v1h-1zM199 345h1v1h-1zM203 345h1v1h-1zM217 345h1v1h-1zM533 345h1v1h-1zM657 345h2v1h-2zM707 345h1v1h-1zM792 345h1v1h-1zM185 346h1v1h-1zM188 346h1v1h-1zM198 346h1v1h-1zM203 346h1v1h-1zM216 346h1v1h-1zM533 346h1v1h-1zM655 346h2v1h-2zM708 346h1v1h-1zM792 346h1v1h-1zM184 347h1v1h-1zM188 347h1v1h-1zM198 347h1v1h-1zM202 347h1v1h-1zM215 347h1v1h-1zM532 347h1v1h-1zM652 347h3v1h-3zM709 347h1v1h-1zM791 347h1v1h-1zM184 348h1v1h-1zM187 348h1v1h-1zM198 348h1v1h-1zM202 348h1v1h-1zM215 348h1v1h-1zM531 348h1v1h-1zM650 348h2v1h-2zM709 348h1v1h-1zM791 348h1v1h-1zM184 349h1v1h-1zM187 349h1v1h-1zM197 349h1v1h-1zM202 349h1v1h-1zM214 349h1v1h-1zM531 349h1v1h-1zM647 349h3v1h-3zM710 349h1v1h-1zM790 349h1v1h-1zM184 350h1v1h-1zM187 350h1v1h-1zM197 350h1v1h-1zM201 350h1v1h-1zM213 350h1v1h-1zM530 350h1v1h-1zM645 350h2v1h-2zM711 350h1v1h-1zM790 350h1v1h-1zM184 351h1v1h-1zM187 351h1v1h-1zM197 351h1v1h-1zM201 351h1v1h-1zM212 351h1v1h-1zM529 351h1v1h-1zM642 351h3v1h-3zM711 351h1v1h-1zM790 351h1v1h-1zM184 352h1v1h-1zM187 352h1v1h-1zM196 352h1v1h-1zM200 352h1v1h-1zM212 352h1v1h-1zM528 352h1v1h-1zM639 352h3v1h-3zM712 352h1v1h-1zM789 352h1v1h-1zM183 353h1v1h-1zM187 353h1v1h-1zM196 353h1v1h-1zM200 353h1v1h-1zM211 353h1v1h-1zM528 353h1v1h-1zM636 353h3v1h-3zM713 353h1v1h-1zM789 353h1v1h-1zM183 354h1v1h-1zM187 354h1v1h-1zM195 354h1v1h-1zM199 354h1v1h-1zM210 354h1v1h-1zM527 354h1v1h-1zM633 354h3v1h-3zM713 354h1v1h-1zM788 354h1v1h-1zM183 355h1v1h-1zM186 355h1v1h-1zM195 355h1v1h-1zM199 355h1v1h-1zM210 355h1v1h-1zM526 355h1v1h-1zM630 355h3v1h-3zM714 355h1v1h-1zM788 355h1v1h-1zM183 356h1v1h-1zM186 356h1v1h-1zM195 356h1v1h-1zM199 356h1v1h-1zM209 356h1v1h-1zM525 356h1v1h-1zM627 356h3v1h-3zM715 356h1v1h-1zM787 356h1v1h-1zM183 357h1v1h-1zM186 357h1v1h-1zM194 357h1v1h-1zM198 357h1v1h-1zM208 357h1v1h-1zM525 357h1v1h-1zM624 357h3v1h-3zM715 357h1v1h-1zM787 357h1v1h-1zM183 358h1v1h-1zM186 358h1v1h-1zM194 358h1v1h-1zM198 358h1v1h-1zM208 358h1v1h-1zM524 358h1v1h-1zM620 358h4v1h-4zM716 358h1v1h-1zM787 358h1v1h-1zM183 359h1v1h-1zM186 359h1v1h-1zM194 359h1v1h-1zM197 359h1v1h-1zM207 359h1v1h-1zM523 359h1v1h-1zM617 359h3v1h-3zM716 359h1v1h-1zM786 359h1v1h-1zM183 360h1v1h-1zM186 360h1v1h-1zM194 360h1v1h-1zM197 360h1v1h-1zM206 360h1v1h-1zM523 360h1v1h-1zM614 360h3v1h-3zM717 360h1v1h-1zM786 360h1v1h-1zM182 361h1v1h-1zM186 361h1v1h-1zM193 361h1v1h-1zM197 361h1v1h-1zM206 361h1v1h-1zM522 361h1v1h-1zM611 361h3v1h-3zM718 361h1v1h-1zM785 361h1v1h-1zM182 362h1v1h-1zM186 362h1v1h-1zM193 362h1v1h-1zM196 362h1v1h-1zM205 362h1v1h-1zM521 362h1v1h-1zM608 362h3v1h-3zM718 362h1v1h-1zM785 362h1v1h-1zM182 363h1v1h-1zM185 363h1v1h-1zM193 363h1v1h-1zM196 363h1v1h-1zM204 363h1v1h-1zM521 363h1v1h-1zM605 363h3v1h-3zM719 363h1v1h-1zM784 363h1v1h-1zM182 364h1v1h-1zM185 364h1v1h-1zM192 364h1v1h-1zM195 364h1v1h-1zM204 364h1v1h-1zM520 364h1v1h-1zM602 364h3v1h-3zM719 364h1v1h-1zM784 364h1v1h-1zM182 365h1v1h-1zM185 365h1v1h-1zM192 365h1v1h-1zM195 365h1v1h-1zM203 365h1v1h-1zM451 365h45v1h-45zM519 365h1v1h-1zM599 365h3v1h-3zM720 365h1v1h-1zM783 365h1v1h-1zM182 366h1v1h-1zM185 366h1v1h-1zM192 366h1v1h-1zM195 366h1v1h-1zM203 366h1v1h-1zM431 366h20v1h-20zM496 366h11v1h-11zM519 366h1v1h-1zM595 366h4v1h-4zM721 366h1v1h-1zM783 366h1v1h-1zM182 367h1v1h-1zM185 367h1v1h-1zM191 367h1v1h-1zM194 367h1v1h-1zM202 367h1v1h-1zM415 367h16v1h-16zM507 367h9v1h-9zM518 367h1v1h-1zM592 367h3v1h-3zM721 367h1v1h-1zM783 367h1v1h-1zM182 368h1v1h-1zM185 368h1v1h-1zM191 368h1v1h-1zM194 368h1v1h-1zM202 368h1v1h-1zM401 368h14v1h-14zM516 368h7v1h-7zM589 368h3v1h-3zM722 368h1v1h-1zM782 368h1v1h-1zM182 369h1v1h-1zM185 369h1v1h-1zM191 369h1v1h-1zM194 369h1v1h-1zM201 369h1v1h-1zM391 369h10v1h-10zM517 369h1v1h-1zM523 369h7v1h-7zM586 369h3v1h-3zM722 369h1v1h-1zM782 369h1v1h-1zM182 370h1v1h-1zM185 370h1v1h-1zM191 370h1v1h-1zM193 370h1v1h-1zM201 370h1v1h-1zM382 370h9v1h-9zM516 370h1v1h-1zM530 370h6v1h-6zM583 370h3v1h-3zM723 370h1v1h-1zM781 370h1v1h-1zM182 371h1v1h-1zM185 371h1v1h-1zM190 371h1v1h-1zM193 371h1v1h-1zM200 371h1v1h-1zM374 371h8v1h-8zM515 371h1v1h-1zM536 371h6v1h-6zM579 371h4v1h-4zM724 371h1v1h-1zM781 371h1v1h-1zM181 372h1v1h-1zM185 372h1v1h-1zM190 372h1v1h-1zM192 372h1v1h-1zM200 372h1v1h-1zM367 372h7v1h-7zM514 372h1v1h-1zM542 372h4v1h-4zM576 372h3v1h-3zM724 372h1v1h-1zM781 372h1v1h-1zM181 373h1v1h-1zM184 373h1v1h-1zM190 373h1v1h-1zM192 373h1v1h-1zM199 373h1v1h-1zM360 373h7v1h-7zM514 373h1v1h-1zM546 373h4v1h-4zM571 373h5v1h-5zM725 373h1v1h-1zM780 373h1v1h-1zM181 374h1v1h-1zM184 374h1v1h-1zM190 374h1v1h-1zM192 374h1v1h-1zM199 374h1v1h-1zM350 374h10v1h-10zM513 374h1v1h-1zM550 374h5v1h-5zM568 374h3v1h-3zM725 374h1v1h-1zM780 374h1v1h-1zM181 375h1v1h-1zM184 375h1v1h-1zM189 375h1v1h-1zM192 375h1v1h-1zM198 375h1v1h-1zM343 375h7v1h-7zM512 375h1v1h-1zM555 375h4v1h-4zM564 375h4v1h-4zM726 375h1v1h-1zM779 375h1v1h-1zM181 376h1v1h-1zM184 376h1v1h-1zM189 376h1v1h-1zM191 376h1v1h-1zM198 376h1v1h-1zM337 376h6v1h-6zM512 376h1v1h-1zM559 376h5v1h-5zM726 376h1v1h-1zM779 376h1v1h-1zM181 377h1v1h-1zM184 377h1v1h-1zM189 377h1v1h-1zM191 377h1v1h-1zM197 377h1v1h-1zM331 377h6v1h-6zM511 377h1v1h-1zM558 377h3v1h-3zM563 377h5v1h-5zM727 377h1v1h-1zM778 377h1v1h-1zM181 378h1v1h-1zM184 378h1v1h-1zM189 378h1v1h-1zM191 378h1v1h-1zM196 378h1v1h-1zM326 378h5v1h-5zM510 378h1v1h-1zM555 378h3v1h-3zM568 378h5v1h-5zM728 378h1v1h-1zM778 378h1v1h-1zM181 379h1v1h-1zM184 379h1v1h-1zM189 379h2v1h-2zM196 379h1v1h-1zM321 379h5v1h-5zM510 379h1v1h-1zM552 379h3v1h-3zM573 379h4v1h-4zM728 379h1v1h-1zM778 379h1v1h-1zM181 380h1v1h-1zM184 380h1v1h-1zM188 380h1v1h-1zM190 380h1v1h-1zM196 380h1v1h-1zM317 380h4v1h-4zM509 380h1v1h-1zM548 380h4v1h-4zM577 380h4v1h-4zM729 380h1v1h-1zM777 380h1v1h-1zM181 381h1v1h-1zM184 381h1v1h-1zM188 381h1v1h-1zM190 381h1v1h-1zM195 381h1v1h-1zM312 381h5v1h-5zM508 381h1v1h-1zM546 381h2v1h-2zM581 381h2v1h-2zM730 381h1v1h-1zM777 381h1v1h-1zM181 382h1v1h-1zM184 382h1v1h-1zM188 382h1v1h-1zM190 382h1v1h-1zM194 382h1v1h-1zM308 382h4v1h-4zM508 382h1v1h-1zM542 382h4v1h-4zM583 382h3v1h-3zM730 382h1v1h-1zM776 382h1v1h-1zM181 383h1v1h-1zM184 383h1v1h-1zM188 383h2v1h-2zM194 383h1v1h-1zM304 383h4v1h-4zM507 383h1v1h-1zM539 383h3v1h-3zM586 383h3v1h-3zM731 383h1v1h-1zM776 383h1v1h-1zM181 384h1v1h-1zM184 384h1v1h-1zM188 384h2v1h-2zM194 384h1v1h-1zM300 384h4v1h-4zM506 384h1v1h-1zM537 384h2v1h-2zM589 384h2v1h-2zM731 384h1v1h-1zM775 384h1v1h-1zM181 385h1v1h-1zM183 385h1v1h-1zM187 385h1v1h-1zM189 385h1v1h-1zM193 385h1v1h-1zM297 385h3v1h-3zM506 385h1v1h-1zM533 385h4v1h-4zM591 385h3v1h-3zM732 385h1v1h-1zM775 385h1v1h-1zM181 386h1v1h-1zM183 386h1v1h-1zM187 386h1v1h-1zM189 386h1v1h-1zM193 386h1v1h-1zM293 386h4v1h-4zM505 386h1v1h-1zM530 386h3v1h-3zM594 386h3v1h-3zM733 386h1v1h-1zM775 386h1v1h-1zM158 387h39v1h-39zM290 387h3v1h-3zM504 387h1v1h-1zM528 387h2v1h-2zM597 387h2v1h-2zM733 387h1v1h-1zM774 387h1v1h-1zM151 388h7v1h-7zM181 388h1v1h-1zM183 388h1v1h-1zM187 388h2v1h-2zM192 388h1v1h-1zM197 388h6v1h-6zM286 388h4v1h-4zM504 388h1v1h-1zM525 388h3v1h-3zM599 388h2v1h-2zM734 388h1v1h-1zM774 388h1v1h-1zM147 389h4v1h-4zM180 389h1v1h-1zM183 389h1v1h-1zM187 389h2v1h-2zM191 389h1v1h-1zM203 389h5v1h-5zM283 389h3v1h-3zM503 389h1v1h-1zM522 389h3v1h-3zM601 389h3v1h-3zM735 389h1v1h-1zM773 389h1v1h-1zM143 390h4v1h-4zM180 390h1v1h-1zM183 390h1v1h-1zM187 390h2v1h-2zM191 390h1v1h-1zM208 390h5v1h-5zM279 390h4v1h-4zM502 390h1v1h-1zM519 390h3v1h-3zM604 390h2v1h-2zM735 390h1v1h-1zM773 390h1v1h-1zM141 391h2v1h-2zM180 391h1v1h-1zM183 391h1v1h-1zM186 391h1v1h-1zM188 391h1v1h-1zM190 391h1v1h-1zM213 391h3v1h-3zM276 391h3v1h-3zM502 391h1v1h-1zM516 391h3v1h-3zM606 391h3v1h-3zM736 391h1v1h-1zM773 391h1v1h-1zM139 392h2v1h-2zM180 392h1v1h-1zM183 392h1v1h-1zM186 392h2v1h-2zM190 392h1v1h-1zM216 392h3v1h-3zM272 392h4v1h-4zM501 392h1v1h-1zM514 392h2v1h-2zM609 392h2v1h-2zM736 392h1v1h-1zM772 392h1v1h-1zM137 393h2v1h-2zM180 393h1v1h-1zM183 393h1v1h-1zM186 393h2v1h-2zM189 393h1v1h-1zM219 393h2v1h-2zM269 393h3v1h-3zM500 393h1v1h-1zM511 393h3v1h-3zM611 393h2v1h-2zM737 393h1v1h-1zM772 393h1v1h-1zM136 394h1v1h-1zM180 394h1v1h-1zM183 394h1v1h-1zM186 394h2v1h-2zM189 394h1v1h-1zM221 394h1v1h-1zM266 394h3v1h-3zM499 394h1v1h-1zM508 394h3v1h-3zM613 394h2v1h-2zM738 394h1v1h-1zM771 394h1v1h-1zM135 395h1v1h-1zM180 395h1v1h-1zM183 395h1v1h-1zM186 395h2v1h-2zM189 395h1v1h-1zM222 395h1v1h-1zM263 395h3v1h-3zM499 395h1v1h-1zM506 395h2v1h-2zM615 395h2v1h-2zM738 395h1v1h-1zM771 395h1v1h-1zM134 396h1v1h-1zM180 396h1v1h-1zM183 396h1v1h-1zM186 396h3v1h-3zM223 396h1v1h-1zM259 396h4v1h-4zM498 396h1v1h-1zM503 396h3v1h-3zM617 396h2v1h-2zM739 396h1v1h-1zM770 396h1v1h-1zM133 397h1v1h-1zM180 397h1v1h-1zM183 397h1v1h-1zM186 397h1v1h-1zM188 397h1v1h-1zM224 397h1v1h-1zM256 397h3v1h-3zM498 397h1v1h-1zM500 397h3v1h-3zM619 397h2v1h-2zM740 397h1v1h-1zM770 397h1v1h-1zM132 398h1v1h-1zM180 398h1v1h-1zM183 398h1v1h-1zM185 398h3v1h-3zM225 398h1v1h-1zM253 398h3v1h-3zM497 398h3v1h-3zM621 398h2v1h-2zM740 398h1v1h-1zM770 398h1v1h-1zM132 399h1v1h-1zM180 399h1v1h-1zM183 399h1v1h-1zM185 399h3v1h-3zM226 399h1v1h-1zM249 399h4v1h-4zM496 399h2v1h-2zM623 399h2v1h-2zM741 399h1v1h-1zM769 399h1v1h-1zM132 400h1v1h-1zM180 400h1v1h-1zM182 400h1v1h-1zM185 400h3v1h-3zM226 400h1v1h-1zM246 400h3v1h-3zM493 400h4v1h-4zM625 400h1v1h-1zM741 400h1v1h-1zM769 400h1v1h-1zM132 401h1v1h-1zM180 401h1v1h-1zM182 401h1v1h-1zM185 401h2v1h-2zM226 401h1v1h-1zM243 401h3v1h-3zM491 401h2v1h-2zM495 401h1v1h-1zM626 401h2v1h-2zM742 401h1v1h-1zM768 401h1v1h-1zM132 402h1v1h-1zM180 402h1v1h-1zM182 402h1v1h-1zM185 402h2v1h-2zM226 402h1v1h-1zM240 402h3v1h-3zM488 402h3v1h-3zM494 402h1v1h-1zM628 402h1v1h-1zM742 402h1v1h-1zM768 402h1v1h-1zM133 403h1v1h-1zM180 403h1v1h-1zM182 403h1v1h-1zM185 403h2v1h-2zM225 403h1v1h-1zM236 403h4v1h-4zM486 403h2v1h-2zM494 403h1v1h-1zM629 403h2v1h-2zM743 403h1v1h-1zM768 403h1v1h-1zM134 404h1v1h-1zM180 404h1v1h-1zM182 404h1v1h-1zM185 404h2v1h-2zM225 404h1v1h-1zM233 404h3v1h-3zM484 404h2v1h-2zM493 404h1v1h-1zM631 404h2v1h-2zM744 404h1v1h-1zM767 404h1v1h-1zM135 405h1v1h-1zM180 405h1v1h-1zM182 405h1v1h-1zM184 405h2v1h-2zM224 405h1v1h-1zM230 405h3v1h-3zM482 405h2v1h-2zM492 405h1v1h-1zM633 405h1v1h-1zM745 405h1v1h-1zM767 405h1v1h-1zM136 406h1v1h-1zM180 406h1v1h-1zM182 406h1v1h-1zM184 406h2v1h-2zM223 406h1v1h-1zM226 406h4v1h-4zM480 406h2v1h-2zM492 406h1v1h-1zM634 406h2v1h-2zM745 406h1v1h-1zM766 406h1v1h-1zM137 407h1v1h-1zM180 407h1v1h-1zM182 407h1v1h-1zM184 407h2v1h-2zM222 407h4v1h-4zM477 407h3v1h-3zM491 407h1v1h-1zM636 407h1v1h-1zM746 407h1v1h-1zM766 407h1v1h-1zM138 408h1v1h-1zM180 408h1v1h-1zM182 408h1v1h-1zM184 408h2v1h-2zM222 408h1v1h-1zM475 408h2v1h-2zM490 408h1v1h-1zM637 408h2v1h-2zM746 408h1v1h-1zM765 408h1v1h-1zM139 409h1v1h-1zM180 409h1v1h-1zM182 409h1v1h-1zM184 409h2v1h-2zM473 409h2v1h-2zM489 409h1v1h-1zM639 409h1v1h-1zM747 409h1v1h-1zM765 409h1v1h-1zM140 410h1v1h-1zM180 410h1v1h-1zM182 410h1v1h-1zM184 410h2v1h-2zM471 410h2v1h-2zM489 410h1v1h-1zM640 410h2v1h-2zM748 410h1v1h-1zM765 410h1v1h-1zM141 411h2v1h-2zM180 411h1v1h-1zM182 411h1v1h-1zM184 411h2v1h-2zM469 411h2v1h-2zM488 411h1v1h-1zM642 411h1v1h-1zM748 411h1v1h-1zM764 411h1v1h-1zM143 412h2v1h-2zM467 412h2v1h-2zM488 412h1v1h-1zM643 412h2v1h-2zM749 412h1v1h-1zM764 412h1v1h-1zM145 413h2v1h-2zM464 413h3v1h-3zM487 413h1v1h-1zM645 413h1v1h-1zM749 413h1v1h-1zM763 413h1v1h-1zM147 414h1v1h-1zM462 414h2v1h-2zM486 414h1v1h-1zM646 414h1v1h-1zM750 414h1v1h-1zM763 414h1v1h-1zM148 415h1v1h-1zM460 415h2v1h-2zM486 415h1v1h-1zM647 415h1v1h-1zM751 415h1v1h-1zM763 415h1v1h-1zM458 416h2v1h-2zM485 416h1v1h-1zM648 416h2v1h-2zM752 416h1v1h-1zM762 416h1v1h-1zM456 417h2v1h-2zM484 417h1v1h-1zM650 417h1v1h-1zM752 417h1v1h-1zM762 417h1v1h-1zM453 418h3v1h-3zM484 418h1v1h-1zM651 418h1v1h-1zM753 418h1v1h-1zM761 418h1v1h-1zM451 419h2v1h-2zM483 419h1v1h-1zM652 419h1v1h-1zM753 419h1v1h-1zM761 419h1v1h-1zM448 420h3v1h-3zM482 420h1v1h-1zM653 420h1v1h-1zM754 420h1v1h-1zM760 420h1v1h-1zM446 421h2v1h-2zM482 421h1v1h-1zM654 421h1v1h-1zM755 421h1v1h-1zM760 421h1v1h-1zM444 422h2v1h-2zM481 422h1v1h-1zM655 422h1v1h-1zM755 422h1v1h-1zM760 422h1v1h-1zM442 423h2v1h-2zM480 423h1v1h-1zM656 423h1v1h-1zM756 423h1v1h-1zM759 423h1v1h-1zM99 424h36v1h-36zM211 424h318v1h-318zM657 424h1v1h-1zM757 424h1v1h-1zM759 424h1v1h-1zM438 425h2v1h-2zM479 425h1v1h-1zM658 425h1v1h-1zM757 425h1v1h-1zM759 425h1v1h-1zM437 426h1v1h-1zM478 426h1v1h-1zM659 426h1v1h-1zM758 426h1v1h-1zM435 427h2v1h-2zM478 427h1v1h-1zM660 427h1v1h-1zM758 427h2v1h-2zM434 428h1v1h-1zM477 428h1v1h-1zM661 428h1v1h-1zM757 428h1v1h-1zM760 428h1v1h-1zM432 429h2v1h-2zM476 429h1v1h-1zM662 429h1v1h-1zM757 429h1v1h-1zM760 429h1v1h-1zM431 430h1v1h-1zM476 430h1v1h-1zM663 430h1v1h-1zM756 430h1v1h-1zM761 430h1v1h-1zM429 431h2v1h-2zM475 431h1v1h-1zM664 431h1v1h-1zM756 431h1v1h-1zM762 431h1v1h-1zM211 432h2v1h-2zM428 432h1v1h-1zM474 432h1v1h-1zM665 432h1v1h-1zM755 432h1v1h-1zM762 432h1v1h-1zM213 433h2v1h-2zM426 433h2v1h-2zM474 433h1v1h-1zM666 433h1v1h-1zM755 433h1v1h-1zM763 433h1v1h-1zM215 434h4v1h-4zM425 434h1v1h-1zM473 434h1v1h-1zM667 434h1v1h-1zM755 434h1v1h-1zM764 434h1v1h-1zM219 435h3v1h-3zM423 435h2v1h-2zM473 435h1v1h-1zM668 435h1v1h-1zM754 435h1v1h-1zM765 435h1v1h-1zM222 436h4v1h-4zM422 436h1v1h-1zM472 436h1v1h-1zM669 436h1v1h-1zM754 436h1v1h-1zM765 436h1v1h-1zM179 437h2v1h-2zM182 437h2v1h-2zM194 437h1v1h-1zM226 437h3v1h-3zM421 437h1v1h-1zM471 437h1v1h-1zM670 437h1v1h-1zM754 437h1v1h-1zM766 437h1v1h-1zM179 438h2v1h-2zM182 438h1v1h-1zM184 438h1v1h-1zM195 438h1v1h-1zM229 438h4v1h-4zM419 438h2v1h-2zM471 438h1v1h-1zM671 438h1v1h-1zM753 438h1v1h-1zM766 438h1v1h-1zM179 439h2v1h-2zM183 439h2v1h-2zM196 439h1v1h-1zM233 439h5v1h-5zM418 439h1v1h-1zM470 439h1v1h-1zM672 439h1v1h-1zM753 439h1v1h-1zM767 439h1v1h-1zM179 440h1v1h-1zM181 440h1v1h-1zM183 440h1v1h-1zM185 440h1v1h-1zM197 440h1v1h-1zM238 440h4v1h-4zM416 440h2v1h-2zM470 440h1v1h-1zM672 440h1v1h-1zM752 440h1v1h-1zM768 440h1v1h-1zM179 441h1v1h-1zM181 441h1v1h-1zM183 441h1v1h-1zM185 441h1v1h-1zM198 441h1v1h-1zM242 441h4v1h-4zM414 441h2v1h-2zM469 441h1v1h-1zM533 441h2v1h-2zM673 441h1v1h-1zM752 441h1v1h-1zM768 441h1v1h-1zM179 442h1v1h-1zM181 442h1v1h-1zM184 442h1v1h-1zM186 442h1v1h-1zM199 442h1v1h-1zM246 442h5v1h-5zM413 442h1v1h-1zM468 442h1v1h-1zM530 442h3v1h-3zM674 442h1v1h-1zM751 442h1v1h-1zM769 442h1v1h-1zM179 443h1v1h-1zM181 443h1v1h-1zM184 443h1v1h-1zM186 443h1v1h-1zM200 443h1v1h-1zM251 443h5v1h-5zM411 443h2v1h-2zM467 443h1v1h-1zM527 443h3v1h-3zM674 443h1v1h-1zM751 443h1v1h-1zM769 443h1v1h-1zM180 444h2v1h-2zM184 444h1v1h-1zM187 444h1v1h-1zM201 444h1v1h-1zM256 444h5v1h-5zM410 444h1v1h-1zM467 444h1v1h-1zM524 444h3v1h-3zM675 444h1v1h-1zM750 444h1v1h-1zM770 444h1v1h-1zM180 445h1v1h-1zM182 445h1v1h-1zM185 445h1v1h-1zM187 445h1v1h-1zM202 445h2v1h-2zM261 445h6v1h-6zM408 445h2v1h-2zM466 445h1v1h-1zM521 445h3v1h-3zM676 445h1v1h-1zM750 445h1v1h-1zM771 445h1v1h-1zM180 446h1v1h-1zM182 446h1v1h-1zM185 446h1v1h-1zM188 446h1v1h-1zM204 446h1v1h-1zM267 446h10v1h-10zM407 446h1v1h-1zM466 446h1v1h-1zM518 446h3v1h-3zM676 446h1v1h-1zM750 446h1v1h-1zM771 446h1v1h-1zM180 447h1v1h-1zM182 447h1v1h-1zM185 447h1v1h-1zM188 447h1v1h-1zM205 447h1v1h-1zM277 447h10v1h-10zM405 447h2v1h-2zM465 447h1v1h-1zM515 447h3v1h-3zM677 447h1v1h-1zM749 447h1v1h-1zM772 447h1v1h-1zM180 448h1v1h-1zM182 448h1v1h-1zM185 448h1v1h-1zM189 448h1v1h-1zM206 448h1v1h-1zM287 448h6v1h-6zM403 448h2v1h-2zM464 448h1v1h-1zM512 448h3v1h-3zM678 448h1v1h-1zM749 448h1v1h-1zM772 448h1v1h-1zM180 449h1v1h-1zM182 449h1v1h-1zM186 449h1v1h-1zM189 449h1v1h-1zM207 449h1v1h-1zM293 449h7v1h-7zM402 449h1v1h-1zM464 449h1v1h-1zM509 449h3v1h-3zM678 449h1v1h-1zM749 449h1v1h-1zM773 449h1v1h-1zM180 450h1v1h-1zM183 450h1v1h-1zM186 450h1v1h-1zM189 450h1v1h-1zM208 450h1v1h-1zM300 450h6v1h-6zM400 450h2v1h-2zM463 450h1v1h-1zM507 450h2v1h-2zM679 450h1v1h-1zM748 450h1v1h-1zM774 450h1v1h-1zM180 451h1v1h-1zM183 451h1v1h-1zM186 451h1v1h-1zM190 451h1v1h-1zM209 451h1v1h-1zM306 451h6v1h-6zM398 451h2v1h-2zM462 451h1v1h-1zM504 451h3v1h-3zM680 451h1v1h-1zM748 451h1v1h-1zM774 451h1v1h-1zM181 452h1v1h-1zM183 452h1v1h-1zM187 452h1v1h-1zM191 452h1v1h-1zM210 452h1v1h-1zM312 452h6v1h-6zM396 452h2v1h-2zM462 452h1v1h-1zM502 452h2v1h-2zM680 452h1v1h-1zM747 452h1v1h-1zM775 452h1v1h-1zM181 453h1v1h-1zM183 453h1v1h-1zM187 453h1v1h-1zM191 453h1v1h-1zM211 453h2v1h-2zM318 453h5v1h-5zM395 453h1v1h-1zM461 453h1v1h-1zM500 453h2v1h-2zM681 453h1v1h-1zM747 453h1v1h-1zM775 453h1v1h-1zM181 454h1v1h-1zM183 454h1v1h-1zM187 454h1v1h-1zM191 454h1v1h-1zM213 454h1v1h-1zM323 454h6v1h-6zM393 454h2v1h-2zM460 454h1v1h-1zM497 454h3v1h-3zM682 454h1v1h-1zM746 454h1v1h-1zM776 454h1v1h-1zM181 455h1v1h-1zM184 455h1v1h-1zM188 455h1v1h-1zM192 455h1v1h-1zM214 455h1v1h-1zM329 455h6v1h-6zM391 455h2v1h-2zM460 455h1v1h-1zM495 455h2v1h-2zM682 455h1v1h-1zM746 455h1v1h-1zM776 455h1v1h-1zM181 456h1v1h-1zM184 456h1v1h-1zM188 456h1v1h-1zM192 456h1v1h-1zM215 456h1v1h-1zM335 456h5v1h-5zM389 456h2v1h-2zM459 456h1v1h-1zM493 456h2v1h-2zM683 456h1v1h-1zM745 456h1v1h-1zM777 456h1v1h-1zM181 457h1v1h-1zM184 457h1v1h-1zM188 457h1v1h-1zM193 457h1v1h-1zM216 457h1v1h-1zM340 457h6v1h-6zM387 457h2v1h-2zM458 457h1v1h-1zM491 457h2v1h-2zM684 457h1v1h-1zM745 457h1v1h-1zM778 457h1v1h-1zM181 458h1v1h-1zM184 458h1v1h-1zM189 458h1v1h-1zM193 458h1v1h-1zM217 458h1v1h-1zM346 458h6v1h-6zM385 458h2v1h-2zM457 458h1v1h-1zM489 458h2v1h-2zM684 458h1v1h-1zM745 458h1v1h-1zM778 458h1v1h-1zM181 459h1v1h-1zM184 459h1v1h-1zM189 459h1v1h-1zM194 459h1v1h-1zM218 459h1v1h-1zM352 459h6v1h-6zM383 459h2v1h-2zM457 459h1v1h-1zM486 459h3v1h-3zM685 459h1v1h-1zM744 459h1v1h-1zM779 459h1v1h-1zM182 460h1v1h-1zM185 460h1v1h-1zM189 460h1v1h-1zM194 460h1v1h-1zM219 460h1v1h-1zM358 460h5v1h-5zM381 460h2v1h-2zM456 460h1v1h-1zM485 460h1v1h-1zM685 460h1v1h-1zM744 460h1v1h-1zM779 460h1v1h-1zM182 461h1v1h-1zM185 461h1v1h-1zM190 461h1v1h-1zM195 461h1v1h-1zM220 461h1v1h-1zM363 461h5v1h-5zM380 461h1v1h-1zM455 461h1v1h-1zM483 461h2v1h-2zM686 461h1v1h-1zM743 461h1v1h-1zM780 461h1v1h-1zM182 462h1v1h-1zM185 462h1v1h-1zM190 462h1v1h-1zM195 462h1v1h-1zM221 462h1v1h-1zM368 462h6v1h-6zM378 462h2v1h-2zM687 462h1v1h-1zM743 462h1v1h-1zM780 462h1v1h-1zM182 463h1v1h-1zM185 463h1v1h-1zM190 463h1v1h-1zM196 463h1v1h-1zM222 463h1v1h-1zM374 463h5v1h-5zM687 463h1v1h-1zM742 463h1v1h-1zM781 463h1v1h-1zM182 464h1v1h-1zM185 464h1v1h-1zM190 464h1v1h-1zM196 464h1v1h-1zM223 464h1v1h-1zM375 464h1v1h-1zM379 464h6v1h-6zM688 464h1v1h-1zM742 464h1v1h-1zM782 464h1v1h-1zM182 465h1v1h-1zM186 465h1v1h-1zM191 465h1v1h-1zM197 465h1v1h-1zM224 465h2v1h-2zM373 465h2v1h-2zM385 465h2v1h-2zM688 465h1v1h-1zM742 465h1v1h-1zM782 465h1v1h-1zM182 466h1v1h-1zM186 466h1v1h-1zM191 466h1v1h-1zM197 466h1v1h-1zM226 466h1v1h-1zM372 466h1v1h-1zM689 466h1v1h-1zM741 466h1v1h-1zM782 466h1v1h-1zM182 467h1v1h-1zM186 467h1v1h-1zM191 467h1v1h-1zM198 467h1v1h-1zM227 467h1v1h-1zM370 467h2v1h-2zM689 467h1v1h-1zM741 467h1v1h-1zM783 467h1v1h-1zM183 468h1v1h-1zM186 468h1v1h-1zM192 468h1v1h-1zM198 468h1v1h-1zM228 468h1v1h-1zM369 468h1v1h-1zM690 468h1v1h-1zM740 468h1v1h-1zM784 468h1v1h-1zM183 469h1v1h-1zM187 469h1v1h-1zM192 469h1v1h-1zM199 469h1v1h-1zM229 469h1v1h-1zM368 469h1v1h-1zM691 469h1v1h-1zM740 469h1v1h-1zM784 469h1v1h-1zM183 470h1v1h-1zM187 470h1v1h-1zM192 470h1v1h-1zM199 470h1v1h-1zM230 470h1v1h-1zM367 470h1v1h-1zM691 470h1v1h-1zM740 470h1v1h-1zM785 470h1v1h-1zM183 471h1v1h-1zM187 471h1v1h-1zM192 471h1v1h-1zM200 471h1v1h-1zM231 471h1v1h-1zM365 471h2v1h-2zM691 471h1v1h-1zM739 471h1v1h-1zM785 471h1v1h-1zM183 472h1v1h-1zM187 472h1v1h-1zM193 472h1v1h-1zM200 472h1v1h-1zM232 472h1v1h-1zM364 472h1v1h-1zM692 472h1v1h-1zM739 472h1v1h-1zM786 472h1v1h-1zM183 473h1v1h-1zM188 473h1v1h-1zM193 473h1v1h-1zM201 473h1v1h-1zM233 473h2v1h-2zM363 473h1v1h-1zM693 473h1v1h-1zM738 473h1v1h-1zM786 473h1v1h-1zM183 474h1v1h-1zM188 474h1v1h-1zM193 474h1v1h-1zM201 474h1v1h-1zM235 474h1v1h-1zM362 474h1v1h-1zM693 474h1v1h-1zM738 474h1v1h-1zM787 474h1v1h-1zM184 475h1v1h-1zM188 475h1v1h-1zM194 475h1v1h-1zM202 475h1v1h-1zM236 475h1v1h-1zM361 475h1v1h-1zM694 475h1v1h-1zM737 475h1v1h-1zM788 475h1v1h-1zM184 476h1v1h-1zM188 476h1v1h-1zM194 476h1v1h-1zM202 476h1v1h-1zM237 476h1v1h-1zM360 476h1v1h-1zM694 476h1v1h-1zM737 476h1v1h-1zM788 476h1v1h-1zM184 477h1v1h-1zM189 477h1v1h-1zM194 477h1v1h-1zM203 477h1v1h-1zM238 477h1v1h-1zM359 477h1v1h-1zM695 477h1v1h-1zM737 477h1v1h-1zM788 477h1v1h-1zM184 478h1v1h-1zM189 478h1v1h-1zM195 478h1v1h-1zM204 478h1v1h-1zM239 478h1v1h-1zM358 478h1v1h-1zM695 478h1v1h-1zM736 478h1v1h-1zM789 478h1v1h-1zM184 479h1v1h-1zM189 479h1v1h-1zM195 479h1v1h-1zM204 479h1v1h-1zM240 479h1v1h-1zM356 479h2v1h-2zM696 479h1v1h-1zM736 479h1v1h-1zM790 479h1v1h-1zM184 480h1v1h-1zM189 480h1v1h-1zM195 480h1v1h-1zM204 480h1v1h-1zM241 480h1v1h-1zM355 480h1v1h-1zM696 480h1v1h-1zM735 480h1v1h-1zM790 480h1v1h-1zM184 481h1v1h-1zM190 481h1v1h-1zM195 481h1v1h-1zM205 481h1v1h-1zM242 481h2v1h-2zM354 481h1v1h-1zM697 481h1v1h-1zM735 481h1v1h-1zM791 481h1v1h-1zM185 482h1v1h-1zM190 482h1v1h-1zM196 482h1v1h-1zM206 482h1v1h-1zM244 482h1v1h-1zM353 482h1v1h-1zM697 482h1v1h-1zM734 482h1v1h-1zM791 482h1v1h-1zM185 483h1v1h-1zM190 483h1v1h-1zM196 483h1v1h-1zM206 483h1v1h-1zM245 483h1v1h-1zM352 483h1v1h-1zM494 483h2v1h-2zM698 483h1v1h-1zM734 483h1v1h-1zM792 483h1v1h-1zM185 484h1v1h-1zM190 484h1v1h-1zM196 484h1v1h-1zM207 484h1v1h-1zM246 484h1v1h-1zM351 484h1v1h-1zM496 484h3v1h-3zM698 484h1v1h-1zM734 484h1v1h-1zM792 484h1v1h-1zM185 485h1v1h-1zM191 485h1v1h-1zM197 485h1v1h-1zM207 485h1v1h-1zM247 485h2v1h-2zM350 485h1v1h-1zM499 485h4v1h-4zM699 485h1v1h-1zM733 485h1v1h-1zM793 485h1v1h-1zM185 486h1v1h-1zM191 486h1v1h-1zM197 486h1v1h-1zM208 486h1v1h-1zM249 486h1v1h-1zM348 486h2v1h-2zM503 486h4v1h-4zM699 486h1v1h-1zM733 486h1v1h-1zM793 486h1v1h-1zM185 487h1v1h-1zM191 487h1v1h-1zM197 487h1v1h-1zM208 487h1v1h-1zM250 487h1v1h-1zM347 487h1v1h-1zM507 487h4v1h-4zM700 487h1v1h-1zM732 487h1v1h-1zM794 487h1v1h-1zM186 488h1v1h-1zM191 488h1v1h-1zM198 488h1v1h-1zM209 488h1v1h-1zM251 488h1v1h-1zM346 488h1v1h-1zM456 488h1v1h-1zM511 488h5v1h-5zM700 488h1v1h-1zM732 488h1v1h-1zM794 488h1v1h-1zM186 489h1v1h-1zM192 489h1v1h-1zM198 489h1v1h-1zM210 489h1v1h-1zM252 489h1v1h-1zM345 489h1v1h-1zM457 489h1v1h-1zM516 489h6v1h-6zM700 489h1v1h-1zM731 489h1v1h-1zM795 489h1v1h-1zM186 490h1v1h-1zM192 490h1v1h-1zM198 490h1v1h-1zM210 490h1v1h-1zM253 490h1v1h-1zM344 490h1v1h-1zM457 490h1v1h-1zM522 490h7v1h-7zM701 490h1v1h-1zM731 490h1v1h-1zM795 490h1v1h-1zM186 491h1v1h-1zM192 491h1v1h-1zM198 491h1v1h-1zM211 491h1v1h-1zM254 491h1v1h-1zM342 491h2v1h-2zM458 491h1v1h-1zM529 491h8v1h-8zM702 491h1v1h-1zM730 491h1v1h-1zM796 491h1v1h-1zM186 492h1v1h-1zM192 492h1v1h-1zM199 492h1v1h-1zM211 492h1v1h-1zM255 492h2v1h-2zM341 492h1v1h-1zM396 492h1v1h-1zM459 492h1v1h-1zM537 492h7v1h-7zM702 492h1v1h-1zM730 492h1v1h-1zM796 492h1v1h-1zM186 493h1v1h-1zM193 493h1v1h-1zM199 493h1v1h-1zM212 493h1v1h-1zM257 493h1v1h-1zM340 493h1v1h-1zM393 493h3v1h-3zM460 493h1v1h-1zM544 493h7v1h-7zM702 493h1v1h-1zM729 493h1v1h-1zM797 493h1v1h-1zM186 494h1v1h-1zM193 494h1v1h-1zM199 494h1v1h-1zM212 494h1v1h-1zM258 494h1v1h-1zM339 494h1v1h-1zM390 494h3v1h-3zM460 494h1v1h-1zM551 494h6v1h-6zM703 494h1v1h-1zM729 494h1v1h-1zM797 494h1v1h-1zM186 495h1v1h-1zM193 495h1v1h-1zM200 495h1v1h-1zM213 495h1v1h-1zM259 495h2v1h-2zM338 495h1v1h-1zM388 495h2v1h-2zM461 495h1v1h-1zM557 495h6v1h-6zM703 495h1v1h-1zM728 495h1v1h-1zM798 495h1v1h-1zM187 496h1v1h-1zM193 496h1v1h-1zM200 496h1v1h-1zM213 496h1v1h-1zM261 496h1v1h-1zM337 496h1v1h-1zM385 496h3v1h-3zM462 496h1v1h-1zM563 496h6v1h-6zM704 496h1v1h-1zM728 496h1v1h-1zM798 496h1v1h-1zM187 497h1v1h-1zM193 497h1v1h-1zM200 497h1v1h-1zM214 497h1v1h-1zM262 497h1v1h-1zM336 497h1v1h-1zM382 497h3v1h-3zM462 497h1v1h-1zM569 497h5v1h-5zM704 497h1v1h-1zM727 497h1v1h-1zM799 497h1v1h-1zM187 498h1v1h-1zM194 498h1v1h-1zM201 498h1v1h-1zM214 498h1v1h-1zM263 498h2v1h-2zM335 498h1v1h-1zM379 498h3v1h-3zM463 498h1v1h-1zM574 498h5v1h-5zM705 498h1v1h-1zM727 498h1v1h-1zM799 498h1v1h-1zM187 499h1v1h-1zM194 499h1v1h-1zM201 499h1v1h-1zM215 499h1v1h-1zM265 499h1v1h-1zM333 499h2v1h-2zM376 499h3v1h-3zM464 499h1v1h-1zM579 499h6v1h-6zM705 499h1v1h-1zM727 499h1v1h-1zM800 499h1v1h-1zM187 500h1v1h-1zM194 500h1v1h-1zM201 500h1v1h-1zM216 500h1v1h-1zM266 500h1v1h-1zM332 500h1v1h-1zM372 500h4v1h-4zM464 500h1v1h-1zM585 500h5v1h-5zM726 500h1v1h-1zM800 500h1v1h-1zM187 501h1v1h-1zM194 501h1v1h-1zM202 501h1v1h-1zM216 501h1v1h-1zM267 501h2v1h-2zM331 501h1v1h-1zM368 501h4v1h-4zM465 501h1v1h-1zM590 501h5v1h-5zM725 501h1v1h-1zM801 501h1v1h-1zM187 502h1v1h-1zM194 502h1v1h-1zM202 502h1v1h-1zM216 502h1v1h-1zM269 502h1v1h-1zM330 502h1v1h-1zM365 502h3v1h-3zM466 502h1v1h-1zM595 502h6v1h-6zM725 502h1v1h-1zM801 502h1v1h-1zM187 503h1v1h-1zM195 503h1v1h-1zM202 503h1v1h-1zM217 503h1v1h-1zM270 503h2v1h-2zM329 503h1v1h-1zM362 503h3v1h-3zM466 503h1v1h-1zM601 503h5v1h-5zM725 503h1v1h-1zM802 503h1v1h-1zM188 504h1v1h-1zM195 504h1v1h-1zM202 504h1v1h-1zM218 504h1v1h-1zM272 504h1v1h-1zM328 504h1v1h-1zM359 504h3v1h-3zM467 504h1v1h-1zM606 504h5v1h-5zM724 504h1v1h-1zM802 504h1v1h-1zM188 505h1v1h-1zM195 505h1v1h-1zM203 505h1v1h-1zM218 505h1v1h-1zM327 505h1v1h-1zM356 505h3v1h-3zM467 505h1v1h-1zM611 505h5v1h-5zM723 505h1v1h-1zM803 505h1v1h-1zM188 506h1v1h-1zM195 506h1v1h-1zM203 506h1v1h-1zM218 506h1v1h-1zM326 506h1v1h-1zM353 506h3v1h-3zM468 506h1v1h-1zM616 506h6v1h-6zM723 506h1v1h-1zM803 506h1v1h-1zM188 507h1v1h-1zM195 507h1v1h-1zM203 507h1v1h-1zM219 507h1v1h-1zM325 507h1v1h-1zM350 507h3v1h-3zM469 507h1v1h-1zM622 507h5v1h-5zM723 507h1v1h-1zM803 507h1v1h-1zM188 508h1v1h-1zM196 508h1v1h-1zM204 508h1v1h-1zM220 508h1v1h-1zM324 508h1v1h-1zM347 508h3v1h-3zM469 508h1v1h-1zM627 508h5v1h-5zM722 508h1v1h-1zM804 508h1v1h-1zM188 509h1v1h-1zM196 509h1v1h-1zM204 509h1v1h-1zM220 509h1v1h-1zM323 509h1v1h-1zM345 509h2v1h-2zM470 509h1v1h-1zM632 509h5v1h-5zM721 509h1v1h-1zM804 509h1v1h-1zM188 510h1v1h-1zM196 510h1v1h-1zM204 510h1v1h-1zM220 510h1v1h-1zM322 510h1v1h-1zM342 510h3v1h-3zM470 510h1v1h-1zM637 510h6v1h-6zM721 510h1v1h-1zM805 510h1v1h-1zM188 511h1v1h-1zM196 511h1v1h-1zM205 511h1v1h-1zM221 511h1v1h-1zM321 511h1v1h-1zM340 511h2v1h-2zM471 511h1v1h-1zM643 511h5v1h-5zM720 511h1v1h-1zM805 511h1v1h-1zM188 512h1v1h-1zM196 512h1v1h-1zM205 512h1v1h-1zM222 512h1v1h-1zM320 512h1v1h-1zM337 512h3v1h-3zM471 512h1v1h-1zM648 512h7v1h-7zM720 512h1v1h-1zM806 512h1v1h-1zM189 513h1v1h-1zM197 513h1v1h-1zM205 513h1v1h-1zM222 513h1v1h-1zM334 513h3v1h-3zM472 513h1v1h-1zM655 513h5v1h-5zM806 513h1v1h-1zM189 514h1v1h-1zM197 514h1v1h-1zM206 514h1v1h-1zM223 514h1v1h-1zM332 514h2v1h-2zM473 514h1v1h-1zM807 514h1v1h-1zM189 515h1v1h-1zM197 515h1v1h-1zM206 515h1v1h-1zM223 515h1v1h-1zM473 515h1v1h-1zM807 515h1v1h-1zM189 516h1v1h-1zM197 516h1v1h-1zM206 516h1v1h-1zM224 516h1v1h-1zM474 516h1v1h-1zM808 516h1v1h-1zM189 517h1v1h-1zM197 517h1v1h-1zM207 517h1v1h-1zM224 517h1v1h-1zM475 517h1v1h-1zM808 517h1v1h-1zM189 518h1v1h-1zM197 518h1v1h-1zM207 518h1v1h-1zM225 518h1v1h-1zM475 518h1v1h-1zM809 518h1v1h-1zM189 519h1v1h-1zM198 519h1v1h-1zM207 519h1v1h-1zM225 519h1v1h-1zM476 519h1v1h-1zM809 519h1v1h-1zM189 520h1v1h-1zM198 520h1v1h-1zM208 520h1v1h-1zM226 520h1v1h-1zM477 520h1v1h-1zM810 520h1v1h-1zM189 521h1v1h-1zM198 521h1v1h-1zM208 521h1v1h-1zM226 521h1v1h-1zM477 521h1v1h-1zM810 521h1v1h-1zM190 522h1v1h-1zM198 522h1v1h-1zM208 522h1v1h-1zM227 522h1v1h-1zM478 522h1v1h-1zM810 522h1v1h-1zM190 523h1v1h-1zM198 523h1v1h-1zM209 523h1v1h-1zM228 523h1v1h-1zM478 523h1v1h-1zM811 523h1v1h-1zM190 524h1v1h-1zM199 524h1v1h-1zM209 524h1v1h-1zM228 524h1v1h-1zM479 524h1v1h-1zM812 524h1v1h-1zM190 525h1v1h-1zM199 525h1v1h-1zM209 525h1v1h-1zM229 525h1v1h-1zM332 525h328v1h-328zM812 525h1v1h-1zM190 526h1v1h-1zM199 526h1v1h-1zM210 526h1v1h-1zM230 526h1v1h-1zM481 526h1v1h-1zM812 526h1v1h-1zM190 527h1v1h-1zM199 527h1v1h-1zM210 527h1v1h-1zM231 527h1v1h-1zM481 527h1v1h-1zM813 527h1v1h-1zM190 528h1v1h-1zM200 528h1v1h-1zM211 528h1v1h-1zM231 528h1v1h-1zM482 528h1v1h-1zM813 528h1v1h-1zM191 529h1v1h-1zM200 529h1v1h-1zM211 529h1v1h-1zM232 529h1v1h-1zM483 529h1v1h-1zM814 529h1v1h-1zM191 530h1v1h-1zM200 530h1v1h-1zM211 530h1v1h-1zM233 530h1v1h-1zM483 530h1v1h-1zM814 530h1v1h-1zM191 531h1v1h-1zM200 531h1v1h-1zM212 531h1v1h-1zM234 531h1v1h-1zM484 531h1v1h-1zM815 531h1v1h-1zM191 532h1v1h-1zM201 532h1v1h-1zM212 532h1v1h-1zM235 532h1v1h-1zM485 532h1v1h-1zM815 532h1v1h-1zM191 533h1v1h-1zM201 533h1v1h-1zM213 533h1v1h-1zM236 533h1v1h-1zM486 533h1v1h-1zM816 533h1v1h-1zM191 534h1v1h-1zM201 534h1v1h-1zM213 534h1v1h-1zM236 534h1v1h-1zM486 534h1v1h-1zM816 534h1v1h-1zM192 535h1v1h-1zM201 535h1v1h-1zM214 535h1v1h-1zM237 535h1v1h-1zM487 535h1v1h-1zM817 535h1v1h-1zM192 536h1v1h-1zM202 536h1v1h-1zM214 536h1v1h-1zM238 536h1v1h-1zM488 536h1v1h-1zM817 536h1v1h-1zM192 537h1v1h-1zM202 537h1v1h-1zM215 537h1v1h-1zM239 537h1v1h-1zM488 537h1v1h-1zM818 537h1v1h-1zM192 538h1v1h-1zM202 538h1v1h-1zM215 538h1v1h-1zM240 538h2v1h-2zM489 538h1v1h-1zM818 538h1v1h-1zM193 539h1v1h-1zM203 539h1v1h-1zM216 539h1v1h-1zM242 539h1v1h-1zM310 539h1v1h-1zM323 539h2v1h-2zM490 539h1v1h-1zM734 539h1v1h-1zM819 539h1v1h-1zM193 540h1v1h-1zM203 540h1v1h-1zM216 540h1v1h-1zM243 540h1v1h-1zM311 540h1v1h-1zM325 540h1v1h-1zM491 540h1v1h-1zM735 540h2v1h-2zM819 540h1v1h-1zM193 541h1v1h-1zM203 541h1v1h-1zM217 541h1v1h-1zM244 541h1v1h-1zM312 541h1v1h-1zM326 541h2v1h-2zM491 541h1v1h-1zM737 541h1v1h-1zM819 541h1v1h-1zM193 542h1v1h-1zM204 542h1v1h-1zM217 542h1v1h-1zM245 542h2v1h-2zM312 542h1v1h-1zM328 542h1v1h-1zM492 542h1v1h-1zM738 542h2v1h-2zM820 542h1v1h-1zM193 543h1v1h-1zM204 543h1v1h-1zM218 543h1v1h-1zM247 543h1v1h-1zM312 543h1v1h-1zM329 543h2v1h-2zM493 543h1v1h-1zM740 543h1v1h-1zM821 543h1v1h-1zM194 544h1v1h-1zM204 544h1v1h-1zM218 544h1v1h-1zM248 544h2v1h-2zM313 544h1v1h-1zM331 544h1v1h-1zM493 544h1v1h-1zM741 544h2v1h-2zM821 544h1v1h-1zM194 545h1v1h-1zM205 545h1v1h-1zM219 545h1v1h-1zM250 545h1v1h-1zM313 545h1v1h-1zM332 545h2v1h-2zM494 545h1v1h-1zM743 545h1v1h-1zM821 545h1v1h-1zM194 546h1v1h-1zM205 546h1v1h-1zM219 546h1v1h-1zM251 546h2v1h-2zM314 546h1v1h-1zM334 546h1v1h-1zM495 546h1v1h-1zM744 546h1v1h-1zM822 546h1v1h-1zM194 547h1v1h-1zM205 547h1v1h-1zM220 547h1v1h-1zM253 547h1v1h-1zM314 547h1v1h-1zM335 547h2v1h-2zM495 547h1v1h-1zM697 547h1v1h-1zM745 547h2v1h-2zM822 547h1v1h-1zM195 548h1v1h-1zM206 548h1v1h-1zM221 548h1v1h-1zM254 548h2v1h-2zM315 548h1v1h-1zM337 548h1v1h-1zM496 548h1v1h-1zM696 548h1v1h-1zM747 548h1v1h-1zM823 548h1v1h-1zM195 549h1v1h-1zM206 549h1v1h-1zM221 549h1v1h-1zM256 549h2v1h-2zM315 549h1v1h-1zM338 549h2v1h-2zM497 549h1v1h-1zM695 549h1v1h-1zM748 549h2v1h-2zM823 549h1v1h-1zM195 550h1v1h-1zM206 550h1v1h-1zM222 550h1v1h-1zM258 550h2v1h-2zM316 550h1v1h-1zM340 550h1v1h-1zM497 550h1v1h-1zM694 550h1v1h-1zM700 550h1v1h-1zM750 550h2v1h-2zM824 550h1v1h-1zM195 551h1v1h-1zM207 551h1v1h-1zM222 551h1v1h-1zM260 551h1v1h-1zM316 551h1v1h-1zM341 551h1v1h-1zM498 551h1v1h-1zM693 551h1v1h-1zM699 551h1v1h-1zM752 551h1v1h-1zM824 551h1v1h-1zM196 552h1v1h-1zM207 552h1v1h-1zM223 552h1v1h-1zM261 552h2v1h-2zM317 552h1v1h-1zM342 552h2v1h-2zM499 552h1v1h-1zM691 552h2v1h-2zM698 552h1v1h-1zM753 552h2v1h-2zM825 552h1v1h-1zM196 553h1v1h-1zM207 553h1v1h-1zM223 553h1v1h-1zM263 553h2v1h-2zM317 553h1v1h-1zM344 553h1v1h-1zM499 553h1v1h-1zM690 553h1v1h-1zM698 553h1v1h-1zM755 553h1v1h-1zM825 553h1v1h-1zM196 554h1v1h-1zM208 554h1v1h-1zM224 554h1v1h-1zM265 554h2v1h-2zM317 554h1v1h-1zM345 554h2v1h-2zM500 554h1v1h-1zM689 554h1v1h-1zM697 554h1v1h-1zM756 554h1v1h-1zM826 554h1v1h-1zM196 555h1v1h-1zM208 555h1v1h-1zM225 555h1v1h-1zM267 555h2v1h-2zM318 555h1v1h-1zM347 555h1v1h-1zM501 555h1v1h-1zM688 555h1v1h-1zM696 555h1v1h-1zM757 555h2v1h-2zM826 555h1v1h-1zM197 556h1v1h-1zM209 556h1v1h-1zM225 556h1v1h-1zM269 556h2v1h-2zM319 556h1v1h-1zM348 556h2v1h-2zM502 556h1v1h-1zM687 556h1v1h-1zM696 556h1v1h-1zM759 556h1v1h-1zM827 556h1v1h-1zM197 557h1v1h-1zM209 557h1v1h-1zM226 557h1v1h-1zM271 557h2v1h-2zM319 557h1v1h-1zM350 557h1v1h-1zM502 557h1v1h-1zM686 557h1v1h-1zM695 557h1v1h-1zM760 557h2v1h-2zM827 557h1v1h-1zM197 558h1v1h-1zM210 558h1v1h-1zM226 558h1v1h-1zM273 558h2v1h-2zM319 558h1v1h-1zM351 558h2v1h-2zM503 558h1v1h-1zM685 558h1v1h-1zM694 558h1v1h-1zM762 558h1v1h-1zM828 558h1v1h-1zM197 559h1v1h-1zM210 559h1v1h-1zM227 559h1v1h-1zM275 559h2v1h-2zM320 559h1v1h-1zM353 559h1v1h-1zM504 559h1v1h-1zM683 559h2v1h-2zM693 559h1v1h-1zM763 559h1v1h-1zM828 559h1v1h-1zM198 560h1v1h-1zM210 560h1v1h-1zM228 560h1v1h-1zM277 560h2v1h-2zM321 560h1v1h-1zM354 560h2v1h-2zM504 560h1v1h-1zM682 560h1v1h-1zM693 560h1v1h-1zM764 560h2v1h-2zM828 560h1v1h-1zM198 561h1v1h-1zM211 561h1v1h-1zM228 561h1v1h-1zM279 561h2v1h-2zM321 561h1v1h-1zM356 561h1v1h-1zM505 561h1v1h-1zM681 561h1v1h-1zM692 561h1v1h-1zM766 561h1v1h-1zM829 561h1v1h-1zM198 562h1v1h-1zM211 562h1v1h-1zM229 562h1v1h-1zM281 562h3v1h-3zM321 562h1v1h-1zM357 562h1v1h-1zM506 562h1v1h-1zM680 562h1v1h-1zM691 562h1v1h-1zM767 562h2v1h-2zM829 562h1v1h-1zM198 563h1v1h-1zM212 563h1v1h-1zM229 563h1v1h-1zM284 563h2v1h-2zM322 563h1v1h-1zM358 563h2v1h-2zM507 563h1v1h-1zM678 563h2v1h-2zM691 563h1v1h-1zM769 563h1v1h-1zM830 563h1v1h-1zM199 564h1v1h-1zM212 564h1v1h-1zM230 564h1v1h-1zM286 564h2v1h-2zM323 564h1v1h-1zM360 564h1v1h-1zM507 564h1v1h-1zM677 564h1v1h-1zM690 564h1v1h-1zM770 564h1v1h-1zM830 564h1v1h-1zM199 565h1v1h-1zM213 565h1v1h-1zM231 565h1v1h-1zM288 565h3v1h-3zM323 565h1v1h-1zM361 565h2v1h-2zM508 565h1v1h-1zM676 565h1v1h-1zM689 565h1v1h-1zM771 565h2v1h-2zM831 565h1v1h-1zM199 566h1v1h-1zM213 566h1v1h-1zM231 566h1v1h-1zM291 566h2v1h-2zM324 566h1v1h-1zM363 566h1v1h-1zM508 566h1v1h-1zM675 566h1v1h-1zM689 566h1v1h-1zM773 566h1v1h-1zM831 566h1v1h-1zM199 567h1v1h-1zM214 567h1v1h-1zM232 567h1v1h-1zM293 567h3v1h-3zM324 567h1v1h-1zM364 567h1v1h-1zM509 567h1v1h-1zM674 567h1v1h-1zM688 567h1v1h-1zM774 567h1v1h-1zM832 567h1v1h-1zM199 568h1v1h-1zM214 568h1v1h-1zM233 568h1v1h-1zM296 568h3v1h-3zM325 568h1v1h-1zM365 568h2v1h-2zM510 568h1v1h-1zM673 568h1v1h-1zM687 568h1v1h-1zM775 568h2v1h-2zM832 568h1v1h-1zM200 569h1v1h-1zM215 569h1v1h-1zM234 569h1v1h-1zM299 569h2v1h-2zM325 569h1v1h-1zM367 569h1v1h-1zM510 569h1v1h-1zM671 569h2v1h-2zM687 569h1v1h-1zM777 569h1v1h-1zM833 569h1v1h-1zM200 570h1v1h-1zM215 570h1v1h-1zM234 570h1v1h-1zM301 570h3v1h-3zM326 570h1v1h-1zM368 570h1v1h-1zM511 570h1v1h-1zM670 570h1v1h-1zM686 570h1v1h-1zM778 570h2v1h-2zM833 570h1v1h-1zM200 571h1v1h-1zM216 571h1v1h-1zM235 571h1v1h-1zM304 571h3v1h-3zM326 571h1v1h-1zM369 571h2v1h-2zM512 571h1v1h-1zM669 571h1v1h-1zM685 571h1v1h-1zM780 571h1v1h-1zM834 571h1v1h-1zM200 572h1v1h-1zM216 572h1v1h-1zM236 572h1v1h-1zM307 572h2v1h-2zM327 572h1v1h-1zM371 572h1v1h-1zM512 572h1v1h-1zM668 572h1v1h-1zM685 572h1v1h-1zM781 572h1v1h-1zM834 572h1v1h-1zM201 573h1v1h-1zM217 573h1v1h-1zM237 573h1v1h-1zM309 573h3v1h-3zM327 573h1v1h-1zM372 573h2v1h-2zM513 573h1v1h-1zM666 573h2v1h-2zM684 573h1v1h-1zM782 573h2v1h-2zM835 573h1v1h-1zM201 574h1v1h-1zM217 574h1v1h-1zM238 574h1v1h-1zM312 574h4v1h-4zM328 574h1v1h-1zM374 574h1v1h-1zM514 574h1v1h-1zM665 574h1v1h-1zM683 574h1v1h-1zM784 574h1v1h-1zM835 574h1v1h-1zM201 575h1v1h-1zM218 575h1v1h-1zM239 575h1v1h-1zM316 575h2v1h-2zM329 575h1v1h-1zM375 575h1v1h-1zM514 575h1v1h-1zM664 575h1v1h-1zM682 575h1v1h-1zM785 575h1v1h-1zM836 575h1v1h-1zM201 576h1v1h-1zM218 576h1v1h-1zM240 576h1v1h-1zM318 576h4v1h-4zM329 576h1v1h-1zM376 576h2v1h-2zM515 576h1v1h-1zM663 576h1v1h-1zM682 576h1v1h-1zM786 576h2v1h-2zM836 576h1v1h-1zM202 577h1v1h-1zM219 577h1v1h-1zM241 577h1v1h-1zM322 577h3v1h-3zM330 577h1v1h-1zM378 577h1v1h-1zM515 577h1v1h-1zM661 577h2v1h-2zM681 577h1v1h-1zM788 577h1v1h-1zM836 577h1v1h-1zM202 578h1v1h-1zM219 578h1v1h-1zM242 578h1v1h-1zM325 578h4v1h-4zM330 578h1v1h-1zM379 578h1v1h-1zM516 578h1v1h-1zM660 578h1v1h-1zM680 578h1v1h-1zM789 578h2v1h-2zM837 578h1v1h-1zM202 579h1v1h-1zM220 579h1v1h-1zM243 579h1v1h-1zM329 579h4v1h-4zM380 579h2v1h-2zM517 579h1v1h-1zM659 579h1v1h-1zM680 579h1v1h-1zM791 579h1v1h-1zM837 579h1v1h-1zM203 580h1v1h-1zM220 580h1v1h-1zM244 580h1v1h-1zM332 580h5v1h-5zM382 580h1v1h-1zM517 580h1v1h-1zM658 580h1v1h-1zM679 580h1v1h-1zM792 580h2v1h-2zM838 580h1v1h-1zM203 581h1v1h-1zM221 581h1v1h-1zM245 581h1v1h-1zM332 581h1v1h-1zM337 581h4v1h-4zM383 581h1v1h-1zM518 581h1v1h-1zM656 581h2v1h-2zM678 581h1v1h-1zM794 581h1v1h-1zM838 581h1v1h-1zM203 582h1v1h-1zM221 582h1v1h-1zM246 582h1v1h-1zM333 582h1v1h-1zM341 582h4v1h-4zM384 582h2v1h-2zM519 582h1v1h-1zM655 582h1v1h-1zM677 582h1v1h-1zM795 582h1v1h-1zM839 582h1v1h-1zM204 583h1v1h-1zM222 583h1v1h-1zM247 583h1v1h-1zM334 583h1v1h-1zM345 583h5v1h-5zM386 583h1v1h-1zM519 583h1v1h-1zM654 583h1v1h-1zM677 583h1v1h-1zM796 583h2v1h-2zM839 583h1v1h-1zM204 584h1v1h-1zM222 584h1v1h-1zM248 584h1v1h-1zM335 584h1v1h-1zM350 584h6v1h-6zM387 584h2v1h-2zM520 584h1v1h-1zM534 584h4v1h-4zM653 584h1v1h-1zM676 584h1v1h-1zM798 584h1v1h-1zM840 584h1v1h-1zM204 585h1v1h-1zM223 585h1v1h-1zM249 585h1v1h-1zM335 585h1v1h-1zM356 585h6v1h-6zM389 585h1v1h-1zM519 585h15v1h-15zM651 585h2v1h-2zM675 585h1v1h-1zM799 585h2v1h-2zM840 585h1v1h-1zM205 586h1v1h-1zM223 586h1v1h-1zM250 586h1v1h-1zM336 586h1v1h-1zM362 586h7v1h-7zM390 586h1v1h-1zM509 586h10v1h-10zM521 586h1v1h-1zM650 586h1v1h-1zM674 586h1v1h-1zM801 586h1v1h-1zM841 586h1v1h-1zM205 587h1v1h-1zM224 587h1v1h-1zM251 587h1v1h-1zM337 587h1v1h-1zM369 587h7v1h-7zM391 587h2v1h-2zM502 587h7v1h-7zM521 587h1v1h-1zM648 587h2v1h-2zM674 587h1v1h-1zM802 587h1v1h-1zM841 587h1v1h-1zM205 588h1v1h-1zM224 588h1v1h-1zM252 588h1v1h-1zM338 588h1v1h-1zM376 588h8v1h-8zM393 588h1v1h-1zM494 588h8v1h-8zM522 588h1v1h-1zM647 588h1v1h-1zM673 588h1v1h-1zM803 588h2v1h-2zM841 588h1v1h-1zM206 589h1v1h-1zM225 589h1v1h-1zM253 589h1v1h-1zM339 589h1v1h-1zM384 589h7v1h-7zM394 589h1v1h-1zM486 589h8v1h-8zM522 589h1v1h-1zM645 589h2v1h-2zM672 589h1v1h-1zM805 589h1v1h-1zM842 589h1v1h-1zM206 590h1v1h-1zM225 590h1v1h-1zM254 590h1v1h-1zM340 590h1v1h-1zM391 590h11v1h-11zM475 590h11v1h-11zM523 590h1v1h-1zM644 590h1v1h-1zM671 590h1v1h-1zM806 590h2v1h-2zM842 590h1v1h-1zM206 591h1v1h-1zM226 591h1v1h-1zM255 591h1v1h-1zM341 591h1v1h-1zM397 591h1v1h-1zM402 591h24v1h-24zM462 591h13v1h-13zM523 591h1v1h-1zM643 591h1v1h-1zM671 591h1v1h-1zM808 591h1v1h-1zM843 591h1v1h-1zM207 592h1v1h-1zM226 592h1v1h-1zM256 592h1v1h-1zM342 592h1v1h-1zM398 592h1v1h-1zM426 592h36v1h-36zM524 592h1v1h-1zM537 592h1v1h-1zM641 592h2v1h-2zM670 592h1v1h-1zM809 592h2v1h-2zM843 592h1v1h-1zM207 593h1v1h-1zM227 593h1v1h-1zM257 593h1v1h-1zM342 593h1v1h-1zM399 593h2v1h-2zM525 593h1v1h-1zM534 593h3v1h-3zM639 593h2v1h-2zM669 593h1v1h-1zM811 593h1v1h-1zM844 593h1v1h-1zM208 594h1v1h-1zM227 594h1v1h-1zM258 594h1v1h-1zM343 594h1v1h-1zM401 594h1v1h-1zM525 594h1v1h-1zM530 594h4v1h-4zM637 594h2v1h-2zM668 594h1v1h-1zM812 594h1v1h-1zM844 594h1v1h-1zM208 595h1v1h-1zM228 595h1v1h-1zM259 595h1v1h-1zM344 595h1v1h-1zM402 595h2v1h-2zM526 595h4v1h-4zM636 595h1v1h-1zM668 595h1v1h-1zM813 595h2v1h-2zM844 595h1v1h-1zM208 596h1v1h-1zM229 596h1v1h-1zM260 596h2v1h-2zM345 596h1v1h-1zM404 596h1v1h-1zM524 596h3v1h-3zM634 596h2v1h-2zM667 596h1v1h-1zM815 596h1v1h-1zM845 596h1v1h-1zM209 597h1v1h-1zM229 597h1v1h-1zM262 597h1v1h-1zM346 597h1v1h-1zM405 597h1v1h-1zM521 597h3v1h-3zM527 597h1v1h-1zM632 597h2v1h-2zM666 597h1v1h-1zM816 597h1v1h-1zM845 597h1v1h-1zM209 598h1v1h-1zM230 598h1v1h-1zM263 598h2v1h-2zM346 598h1v1h-1zM406 598h2v1h-2zM518 598h3v1h-3zM528 598h1v1h-1zM630 598h2v1h-2zM665 598h1v1h-1zM817 598h2v1h-2zM846 598h1v1h-1zM210 599h1v1h-1zM231 599h1v1h-1zM265 599h1v1h-1zM347 599h1v1h-1zM408 599h1v1h-1zM515 599h3v1h-3zM528 599h1v1h-1zM628 599h2v1h-2zM664 599h1v1h-1zM819 599h1v1h-1zM846 599h1v1h-1zM210 600h1v1h-1zM232 600h1v1h-1zM266 600h2v1h-2zM348 600h1v1h-1zM409 600h1v1h-1zM512 600h3v1h-3zM529 600h1v1h-1zM625 600h3v1h-3zM664 600h1v1h-1zM820 600h2v1h-2zM847 600h1v1h-1zM211 601h1v1h-1zM232 601h1v1h-1zM268 601h1v1h-1zM349 601h1v1h-1zM410 601h2v1h-2zM509 601h3v1h-3zM530 601h1v1h-1zM623 601h2v1h-2zM663 601h1v1h-1zM822 601h1v1h-1zM847 601h1v1h-1zM211 602h1v1h-1zM233 602h1v1h-1zM269 602h2v1h-2zM350 602h1v1h-1zM412 602h1v1h-1zM506 602h3v1h-3zM530 602h1v1h-1zM621 602h2v1h-2zM662 602h1v1h-1zM823 602h1v1h-1zM211 603h1v1h-1zM234 603h1v1h-1zM271 603h2v1h-2zM350 603h1v1h-1zM413 603h1v1h-1zM504 603h2v1h-2zM531 603h1v1h-1zM618 603h3v1h-3zM661 603h1v1h-1zM824 603h2v1h-2zM212 604h1v1h-1zM235 604h1v1h-1zM273 604h1v1h-1zM351 604h1v1h-1zM414 604h2v1h-2zM501 604h3v1h-3zM532 604h1v1h-1zM616 604h2v1h-2zM660 604h1v1h-1zM826 604h1v1h-1zM212 605h1v1h-1zM235 605h1v1h-1zM274 605h2v1h-2zM352 605h1v1h-1zM416 605h1v1h-1zM499 605h2v1h-2zM532 605h1v1h-1zM614 605h2v1h-2zM659 605h1v1h-1zM827 605h2v1h-2zM213 606h1v1h-1zM236 606h1v1h-1zM276 606h2v1h-2zM353 606h1v1h-1zM496 606h3v1h-3zM533 606h1v1h-1zM611 606h3v1h-3zM658 606h1v1h-1zM213 607h1v1h-1zM237 607h1v1h-1zM278 607h2v1h-2zM353 607h1v1h-1zM493 607h3v1h-3zM533 607h1v1h-1zM609 607h2v1h-2zM658 607h1v1h-1zM214 608h1v1h-1zM238 608h1v1h-1zM280 608h2v1h-2zM354 608h1v1h-1zM491 608h2v1h-2zM534 608h1v1h-1zM606 608h3v1h-3zM657 608h1v1h-1zM214 609h1v1h-1zM238 609h1v1h-1zM282 609h2v1h-2zM355 609h1v1h-1zM488 609h3v1h-3zM535 609h1v1h-1zM603 609h3v1h-3zM656 609h1v1h-1zM214 610h1v1h-1zM239 610h1v1h-1zM284 610h3v1h-3zM356 610h1v1h-1zM486 610h2v1h-2zM535 610h1v1h-1zM600 610h3v1h-3zM655 610h1v1h-1zM215 611h1v1h-1zM240 611h1v1h-1zM287 611h2v1h-2zM356 611h1v1h-1zM483 611h3v1h-3zM536 611h1v1h-1zM597 611h3v1h-3zM654 611h1v1h-1zM216 612h1v1h-1zM241 612h1v1h-1zM289 612h3v1h-3zM357 612h1v1h-1zM481 612h2v1h-2zM537 612h1v1h-1zM593 612h4v1h-4zM654 612h1v1h-1zM216 613h1v1h-1zM241 613h1v1h-1zM292 613h3v1h-3zM358 613h1v1h-1zM479 613h2v1h-2zM537 613h1v1h-1zM589 613h4v1h-4zM653 613h1v1h-1zM216 614h1v1h-1zM242 614h1v1h-1zM295 614h3v1h-3zM359 614h1v1h-1zM476 614h3v1h-3zM538 614h1v1h-1zM585 614h4v1h-4zM652 614h1v1h-1zM217 615h1v1h-1zM243 615h1v1h-1zM298 615h4v1h-4zM360 615h1v1h-1zM473 615h3v1h-3zM539 615h1v1h-1zM579 615h6v1h-6zM651 615h1v1h-1zM218 616h1v1h-1zM244 616h1v1h-1zM302 616h2v1h-2zM360 616h1v1h-1zM472 616h1v1h-1zM540 616h1v1h-1zM572 616h7v1h-7zM650 616h1v1h-1zM218 617h1v1h-1zM244 617h1v1h-1zM304 617h3v1h-3zM361 617h1v1h-1zM540 617h1v1h-1zM562 617h10v1h-10zM649 617h1v1h-1zM218 618h1v1h-1zM245 618h1v1h-1zM307 618h3v1h-3zM362 618h1v1h-1zM541 618h1v1h-1zM547 618h15v1h-15zM648 618h1v1h-1zM219 619h1v1h-1zM246 619h1v1h-1zM310 619h4v1h-4zM363 619h1v1h-1zM537 619h10v1h-10zM648 619h1v1h-1zM220 620h1v1h-1zM247 620h1v1h-1zM314 620h3v1h-3zM364 620h1v1h-1zM530 620h7v1h-7zM543 620h1v1h-1zM647 620h1v1h-1zM220 621h1v1h-1zM248 621h1v1h-1zM317 621h3v1h-3zM365 621h1v1h-1zM524 621h6v1h-6zM543 621h1v1h-1zM646 621h1v1h-1zM220 622h1v1h-1zM248 622h1v1h-1zM320 622h4v1h-4zM365 622h1v1h-1zM518 622h6v1h-6zM544 622h1v1h-1zM645 622h1v1h-1zM221 623h1v1h-1zM249 623h1v1h-1zM324 623h5v1h-5zM366 623h1v1h-1zM511 623h7v1h-7zM545 623h1v1h-1zM644 623h1v1h-1zM221 624h1v1h-1zM250 624h1v1h-1zM329 624h5v1h-5zM367 624h1v1h-1zM503 624h8v1h-8zM546 624h1v1h-1zM643 624h1v1h-1zM222 625h1v1h-1zM251 625h1v1h-1zM334 625h5v1h-5zM368 625h1v1h-1zM495 625h8v1h-8zM546 625h1v1h-1zM642 625h1v1h-1zM222 626h1v1h-1zM252 626h1v1h-1zM339 626h7v1h-7zM369 626h1v1h-1zM485 626h10v1h-10zM547 626h1v1h-1zM642 626h1v1h-1zM223 627h1v1h-1zM253 627h1v1h-1zM346 627h7v1h-7zM370 627h1v1h-1zM476 627h9v1h-9zM548 627h1v1h-1zM641 627h1v1h-1zM752 627h47v1h-47zM223 628h1v1h-1zM254 628h1v1h-1zM353 628h8v1h-8zM371 628h1v1h-1zM472 628h4v1h-4zM548 628h1v1h-1zM640 628h1v1h-1zM224 629h1v1h-1zM254 629h1v1h-1zM361 629h10v1h-10zM372 629h1v1h-1zM549 629h1v1h-1zM639 629h1v1h-1zM224 630h1v1h-1zM255 630h1v1h-1zM371 630h36v1h-36zM550 630h1v1h-1zM638 630h1v1h-1zM225 631h1v1h-1zM256 631h1v1h-1zM374 631h1v1h-1zM551 631h1v1h-1zM637 631h1v1h-1zM225 632h1v1h-1zM257 632h1v1h-1zM374 632h1v1h-1zM551 632h1v1h-1zM636 632h1v1h-1zM225 633h1v1h-1zM258 633h1v1h-1zM375 633h1v1h-1zM552 633h1v1h-1zM635 633h1v1h-1zM226 634h1v1h-1zM259 634h1v1h-1zM376 634h1v1h-1zM553 634h1v1h-1zM634 634h1v1h-1zM226 635h1v1h-1zM260 635h1v1h-1zM377 635h1v1h-1zM554 635h1v1h-1zM633 635h1v1h-1zM227 636h1v1h-1zM261 636h1v1h-1zM378 636h1v1h-1zM554 636h1v1h-1zM632 636h1v1h-1zM227 637h1v1h-1zM262 637h1v1h-1zM379 637h1v1h-1zM472 637h2v1h-2zM555 637h1v1h-1zM631 637h1v1h-1zM228 638h1v1h-1zM263 638h1v1h-1zM380 638h1v1h-1zM474 638h2v1h-2zM556 638h1v1h-1zM630 638h1v1h-1zM228 639h1v1h-1zM264 639h1v1h-1zM381 639h1v1h-1zM476 639h2v1h-2zM557 639h1v1h-1zM629 639h1v1h-1zM229 640h1v1h-1zM265 640h1v1h-1zM382 640h1v1h-1zM478 640h3v1h-3zM557 640h1v1h-1zM628 640h1v1h-1zM229 641h1v1h-1zM266 641h1v1h-1zM383 641h1v1h-1zM481 641h2v1h-2zM558 641h1v1h-1zM627 641h1v1h-1zM230 642h1v1h-1zM267 642h1v1h-1zM384 642h1v1h-1zM483 642h3v1h-3zM559 642h1v1h-1zM626 642h1v1h-1zM230 643h1v1h-1zM268 643h2v1h-2zM385 643h1v1h-1zM486 643h2v1h-2zM559 643h1v1h-1zM625 643h1v1h-1zM795 643h4v1h-4zM231 644h1v1h-1zM270 644h1v1h-1zM386 644h2v1h-2zM488 644h2v1h-2zM560 644h1v1h-1zM624 644h1v1h-1zM790 644h5v1h-5zM231 645h1v1h-1zM271 645h1v1h-1zM388 645h1v1h-1zM490 645h3v1h-3zM561 645h1v1h-1zM623 645h1v1h-1zM666 645h3v1h-3zM784 645h6v1h-6zM232 646h1v1h-1zM272 646h1v1h-1zM389 646h1v1h-1zM493 646h3v1h-3zM561 646h1v1h-1zM622 646h1v1h-1zM664 646h2v1h-2zM779 646h5v1h-5zM233 647h1v1h-1zM273 647h2v1h-2zM390 647h2v1h-2zM496 647h2v1h-2zM562 647h1v1h-1zM621 647h1v1h-1zM661 647h3v1h-3zM774 647h5v1h-5zM233 648h1v1h-1zM275 648h1v1h-1zM392 648h2v1h-2zM498 648h3v1h-3zM562 648h1v1h-1zM620 648h1v1h-1zM658 648h3v1h-3zM769 648h5v1h-5zM233 649h1v1h-1zM276 649h1v1h-1zM394 649h1v1h-1zM501 649h3v1h-3zM563 649h1v1h-1zM619 649h1v1h-1zM656 649h2v1h-2zM765 649h4v1h-4zM834 649h1v1h-1zM234 650h1v1h-1zM277 650h2v1h-2zM395 650h2v1h-2zM504 650h2v1h-2zM564 650h1v1h-1zM618 650h1v1h-1zM654 650h2v1h-2zM760 650h5v1h-5zM832 650h2v1h-2zM235 651h1v1h-1zM279 651h1v1h-1zM397 651h1v1h-1zM506 651h3v1h-3zM565 651h1v1h-1zM617 651h1v1h-1zM652 651h2v1h-2zM755 651h5v1h-5zM831 651h1v1h-1zM235 652h1v1h-1zM280 652h1v1h-1zM398 652h2v1h-2zM509 652h3v1h-3zM565 652h1v1h-1zM616 652h1v1h-1zM649 652h3v1h-3zM751 652h4v1h-4zM830 652h1v1h-1zM236 653h1v1h-1zM281 653h2v1h-2zM400 653h2v1h-2zM512 653h3v1h-3zM566 653h1v1h-1zM615 653h1v1h-1zM646 653h3v1h-3zM746 653h5v1h-5zM829 653h1v1h-1zM236 654h1v1h-1zM283 654h2v1h-2zM402 654h1v1h-1zM515 654h3v1h-3zM614 654h1v1h-1zM644 654h2v1h-2zM741 654h5v1h-5zM828 654h1v1h-1zM237 655h1v1h-1zM285 655h1v1h-1zM403 655h2v1h-2zM518 655h3v1h-3zM613 655h1v1h-1zM641 655h3v1h-3zM736 655h5v1h-5zM826 655h2v1h-2zM237 656h1v1h-1zM286 656h1v1h-1zM405 656h2v1h-2zM521 656h3v1h-3zM612 656h1v1h-1zM638 656h3v1h-3zM729 656h7v1h-7zM825 656h1v1h-1zM238 657h1v1h-1zM287 657h2v1h-2zM407 657h2v1h-2zM524 657h3v1h-3zM611 657h1v1h-1zM636 657h2v1h-2zM722 657h7v1h-7zM824 657h1v1h-1zM239 658h1v1h-1zM289 658h2v1h-2zM409 658h2v1h-2zM527 658h3v1h-3zM610 658h1v1h-1zM633 658h3v1h-3zM713 658h9v1h-9zM823 658h1v1h-1zM239 659h1v1h-1zM291 659h2v1h-2zM411 659h2v1h-2zM530 659h4v1h-4zM609 659h1v1h-1zM629 659h4v1h-4zM705 659h8v1h-8zM822 659h1v1h-1zM240 660h1v1h-1zM293 660h1v1h-1zM413 660h3v1h-3zM608 660h1v1h-1zM627 660h2v1h-2zM697 660h8v1h-8zM821 660h1v1h-1zM241 661h1v1h-1zM294 661h2v1h-2zM416 661h2v1h-2zM607 661h1v1h-1zM623 661h4v1h-4zM690 661h7v1h-7zM820 661h1v1h-1zM241 662h1v1h-1zM296 662h2v1h-2zM418 662h2v1h-2zM606 662h1v1h-1zM620 662h3v1h-3zM684 662h6v1h-6zM819 662h1v1h-1zM242 663h1v1h-1zM298 663h2v1h-2zM420 663h3v1h-3zM605 663h1v1h-1zM618 663h2v1h-2zM678 663h6v1h-6zM817 663h2v1h-2zM243 664h1v1h-1zM300 664h2v1h-2zM423 664h3v1h-3zM604 664h1v1h-1zM672 664h6v1h-6zM816 664h1v1h-1zM243 665h1v1h-1zM302 665h2v1h-2zM426 665h3v1h-3zM666 665h6v1h-6zM815 665h1v1h-1zM244 666h1v1h-1zM304 666h2v1h-2zM429 666h2v1h-2zM660 666h6v1h-6zM814 666h1v1h-1zM244 667h1v1h-1zM306 667h2v1h-2zM431 667h4v1h-4zM654 667h6v1h-6zM813 667h1v1h-1zM245 668h1v1h-1zM308 668h3v1h-3zM435 668h3v1h-3zM648 668h6v1h-6zM812 668h1v1h-1zM246 669h1v1h-1zM311 669h2v1h-2zM438 669h4v1h-4zM641 669h7v1h-7zM811 669h1v1h-1zM247 670h1v1h-1zM313 670h3v1h-3zM442 670h4v1h-4zM635 670h6v1h-6zM810 670h1v1h-1zM247 671h1v1h-1zM316 671h2v1h-2zM446 671h4v1h-4zM628 671h7v1h-7zM809 671h1v1h-1zM248 672h1v1h-1zM318 672h3v1h-3zM450 672h5v1h-5zM622 672h6v1h-6zM808 672h1v1h-1zM249 673h1v1h-1zM321 673h3v1h-3zM455 673h5v1h-5zM620 673h2v1h-2zM807 673h1v1h-1zM250 674h1v1h-1zM324 674h3v1h-3zM460 674h6v1h-6zM806 674h1v1h-1zM250 675h1v1h-1zM327 675h3v1h-3zM466 675h6v1h-6zM805 675h1v1h-1zM251 676h1v1h-1zM330 676h3v1h-3zM472 676h6v1h-6zM804 676h1v1h-1zM252 677h1v1h-1zM333 677h2v1h-2zM478 677h7v1h-7zM802 677h2v1h-2zM253 678h1v1h-1zM335 678h3v1h-3zM485 678h9v1h-9zM801 678h1v1h-1zM253 679h1v1h-1zM338 679h3v1h-3zM494 679h10v1h-10zM800 679h1v1h-1zM254 680h1v1h-1zM341 680h3v1h-3zM504 680h15v1h-15zM524 680h10v1h-10zM799 680h1v1h-1zM255 681h1v1h-1zM344 681h3v1h-3zM519 681h5v1h-5zM797 681h2v1h-2zM256 682h1v1h-1zM347 682h3v1h-3zM796 682h1v1h-1zM256 683h1v1h-1zM350 683h3v1h-3zM795 683h1v1h-1zM257 684h1v1h-1zM353 684h3v1h-3zM793 684h2v1h-2zM258 685h1v1h-1zM356 685h4v1h-4zM792 685h1v1h-1zM259 686h1v1h-1zM360 686h4v1h-4zM791 686h1v1h-1zM260 687h1v1h-1zM364 687h5v1h-5zM529 687h5v1h-5zM789 687h2v1h-2zM260 688h1v1h-1zM369 688h5v1h-5zM521 688h8v1h-8zM788 688h1v1h-1zM261 689h1v1h-1zM374 689h5v1h-5zM513 689h8v1h-8zM787 689h1v1h-1zM262 690h1v1h-1zM379 690h7v1h-7zM505 690h8v1h-8zM785 690h2v1h-2zM263 691h1v1h-1zM386 691h7v1h-7zM498 691h7v1h-7zM784 691h1v1h-1zM264 692h1v1h-1zM393 692h9v1h-9zM489 692h9v1h-9zM783 692h1v1h-1zM265 693h1v1h-1zM402 693h15v1h-15zM476 693h13v1h-13zM781 693h2v1h-2zM266 694h1v1h-1zM417 694h59v1h-59zM780 694h1v1h-1zM267 695h1v1h-1zM779 695h1v1h-1zM268 696h1v1h-1zM777 696h2v1h-2zM268 697h1v1h-1zM776 697h1v1h-1zM269 698h1v1h-1zM775 698h1v1h-1zM270 699h1v1h-1zM773 699h2v1h-2zM271 700h1v1h-1zM772 700h1v1h-1zM272 701h1v1h-1zM771 701h1v1h-1zM273 702h1v1h-1zM770 702h1v1h-1zM274 703h1v1h-1zM768 703h2v1h-2zM275 704h1v1h-1zM767 704h1v1h-1zM276 705h1v1h-1zM766 705h1v1h-1zM277 706h1v1h-1zM765 706h1v1h-1zM278 707h1v1h-1zM764 707h1v1h-1zM279 708h1v1h-1zM762 708h2v1h-2zM280 709h1v1h-1zM761 709h1v1h-1zM281 710h1v1h-1zM760 710h1v1h-1zM281 711h1v1h-1zM759 711h1v1h-1zM282 712h1v1h-1zM758 712h1v1h-1zM283 713h1v1h-1zM756 713h2v1h-2zM284 714h1v1h-1zM755 714h1v1h-1zM285 715h1v1h-1zM754 715h1v1h-1zM286 716h1v1h-1zM752 716h2v1h-2zM287 717h1v1h-1zM751 717h1v1h-1zM288 718h1v1h-1zM750 718h1v1h-1zM289 719h1v1h-1zM748 719h2v1h-2zM290 720h1v1h-1zM747 720h1v1h-1zM290 721h1v1h-1zM745 721h2v1h-2zM291 722h1v1h-1zM744 722h1v1h-1zM292 723h1v1h-1zM742 723h2v1h-2zM293 724h1v1h-1zM740 724h2v1h-2zM294 725h1v1h-1zM739 725h1v1h-1zM295 726h1v1h-1zM737 726h2v1h-2zM296 727h1v1h-1zM736 727h1v1h-1zM297 728h1v1h-1zM734 728h2v1h-2zM298 729h1v1h-1zM732 729h2v1h-2zM299 730h1v1h-1zM731 730h1v1h-1zM300 731h1v1h-1zM729 731h2v1h-2zM301 732h1v1h-1zM727 732h2v1h-2zM302 733h1v1h-1zM725 733h2v1h-2zM303 734h1v1h-1zM724 734h1v1h-1zM304 735h1v1h-1zM722 735h2v1h-2zM305 736h1v1h-1zM720 736h2v1h-2zM306 737h1v1h-1zM718 737h2v1h-2zM307 738h1v1h-1zM716 738h2v1h-2zM308 739h1v1h-1zM714 739h2v1h-2zM309 740h2v1h-2zM713 740h1v1h-1zM311 741h1v1h-1zM711 741h2v1h-2zM312 742h1v1h-1zM709 742h2v1h-2zM313 743h2v1h-2zM707 743h2v1h-2zM315 744h1v1h-1zM705 744h2v1h-2zM316 745h1v1h-1zM703 745h2v1h-2zM317 746h2v1h-2zM701 746h2v1h-2zM319 747h1v1h-1zM699 747h2v1h-2zM320 748h2v1h-2zM697 748h2v1h-2zM322 749h2v1h-2zM695 749h2v1h-2zM324 750h1v1h-1zM693 750h2v1h-2zM325 751h2v1h-2zM691 751h2v1h-2zM327 752h1v1h-1zM689 752h2v1h-2zM328 753h2v1h-2zM687 753h2v1h-2zM330 754h2v1h-2zM685 754h2v1h-2zM332 755h1v1h-1zM683 755h2v1h-2zM333 756h2v1h-2zM680 756h3v1h-3zM335 757h2v1h-2zM678 757h2v1h-2zM337 758h2v1h-2zM676 758h2v1h-2zM339 759h3v1h-3zM674 759h2v1h-2zM342 760h1v1h-1zM671 760h3v1h-3zM343 761h3v1h-3zM668 761h3v1h-3zM346 762h2v1h-2zM666 762h2v1h-2zM348 763h3v1h-3zM662 763h4v1h-4zM351 764h3v1h-3zM659 764h3v1h-3zM354 765h2v1h-2zM656 765h3v1h-3zM356 766h3v1h-3zM652 766h4v1h-4zM359 767h4v1h-4zM648 767h4v1h-4zM363 768h2v1h-2zM644 768h4v1h-4zM365 769h4v1h-4zM641 769h3v1h-3zM369 770h4v1h-4zM637 770h4v1h-4zM373 771h4v1h-4zM633 771h4v1h-4zM377 772h4v1h-4zM628 772h5v1h-5zM381 773h5v1h-5zM623 773h5v1h-5zM386 774h5v1h-5zM618 774h5v1h-5zM391 775h7v1h-7zM612 775h6v1h-6zM398 776h8v1h-8zM606 776h6v1h-6zM406 777h8v1h-8zM599 777h7v1h-7zM414 778h15v1h-15zM590 778h9v1h-9zM429 779h114v1h-114zM568 779h22v1h-22zM543 780h25v1h-25z"/>
<g fill="#191970" stroke="#191970" stroke-width="1" shape-rendering="crispEdges">
<polygon points="134.67,429.17 148.00,424.50 134.67,419.83"/>
<polygon points="220.28,403.80 211.80,415.10 225.47,411.56"/>
<polygon points="266.11,69.48 274.20,57.90 260.65,61.89"/>
<polygon points="272.04,120.61 279.30,108.50 266.06,113.43"/>
<polygon points="799.93,184.39 814.00,183.10 802.21,175.33"/>
<polygon points="538.34,220.61 552.00,217.00 539.08,211.30"/>
<polygon points="529.68,268.76 543.30,265.00 530.32,259.44"/>
<polygon points="528.97,429.17 542.30,424.50 528.97,419.83"/>
<polygon points="385.35,469.82 399.30,467.60 387.02,460.63"/>
<polygon points="269.80,508.19 283.40,512.00 275.15,500.54"/>
<polygon points="701.22,501.27 710.40,512.00 709.92,497.88"/>
<polygon points="537.32,589.47 550.30,583.90 536.68,580.15"/>
<polygon points="406.02,635.03 419.40,630.50 406.12,625.69"/>
<polygon points="533.87,692.12 546.50,685.80 532.69,682.86"/>
<polygon points="837.62,652.96 844.80,640.80 831.60,645.82"/>
<polygon points="388.67,100.17 402.00,95.50 388.67,90.83"/>
<polygon points="829.94,178.24 843.20,183.10 835.87,171.02"/>
<polygon points="797.62,34.72 810.40,28.70 796.66,25.43"/>
<polygon points="804.33,65.19 818.30,63.10 806.08,56.01"/>
<polygon points="836.09,175.83 848.20,183.10 843.28,169.86"/>
<polygon points="701.88,70.78 706.40,57.40 694.51,65.03"/>
<polygon points="794.33,206.78 807.30,201.20 793.68,197.47"/>
<polygon points="665.72,241.34 679.80,240.20 668.09,232.31"/>
<polygon points="843.12,603.02 852.80,613.30 851.65,599.22"/>
<polygon points="840.79,222.03 846.70,209.20 834.08,215.54"/>
<polygon points="841.12,222.18 846.70,209.20 834.24,215.86"/>
<polygon points="851.10,223.28 852.20,209.20 842.56,219.52"/>
<polygon points="571.06,299.07 574.20,285.30 563.15,294.10"/>
<polygon points="536.48,445.84 547.50,437.00 533.38,437.03"/>
<polygon points="658.94,518.10 672.80,515.40 660.28,508.86"/>
<polygon points="562.22,655.84 573.60,664.20 569.92,650.56"/>
<polygon points="397.77,497.34 408.70,488.40 394.58,488.57"/>
<polygon points="659.47,530.17 672.80,525.50 659.47,520.83"/>
<polygon points="533.23,685.34 546.50,680.50 533.11,676.00"/>
<polygon points="413.50,609.04 427.00,613.20 419.05,601.53"/>
<polygon points="539.02,597.30 550.30,588.80 536.18,588.40"/>
<polygon points="700.62,551.52 707.70,539.30 694.54,544.43"/>
<polygon points="532.08,664.38 546.20,664.20 535.05,655.53"/>
<polygon points="703.93,552.91 707.70,539.30 696.26,547.59"/>
<polygon points="669.90,649.42 680.60,640.20 666.49,640.72"/>
<polygon points="799.40,647.92 811.60,640.80 797.62,638.75"/>
<polygon points="798.27,632.17 811.60,627.50 798.27,622.83"/>
<polygon points="825.44,609.33 839.00,613.30 830.88,601.74"/>
</g>
<rect x="7.5" y="411.5" width="92" height="26" fill="#bfbfbf" stroke="#000" stroke-width="1"/>
<rect x="148.5" y="411.5" width="63" height="26" fill="#fff" stroke="#000" stroke-width="1"/>
<rect x="260.5" y="31.5" width="90" height="26" fill="#fff" stroke="#000" stroke-width="1"/>
<rect x="264.5" y="82.5" width="80" height="26" fill="#fff" stroke="#000" stroke-width="1"/>
<rect x="402.5" y="81.5" width="88" height="27" fill="#fff" stroke="#000" stroke-width="1"/>
<rect x="676.5" y="31.5" width="79" height="26" fill="#fff" stroke="#000" stroke-width="1"/>
<rect x="810.5" y="5.5" width="96" height="27" fill="#fff" stroke="#000" stroke-width="1"/>
<rect x="818.5" y="56.5" width="81" height="27" fill="#fff" stroke="#f00" stroke-width="1"/>
<rect x="807.5" y="183.5" width="103" height="26" fill="#fff" stroke="#000" stroke-width="1"/>
<rect x="552.5" y="208.5" width="62" height="27" fill="#fff" stroke="#000" stroke-width="1"/>
<rect x="679.5" y="233.5" width="73" height="27" fill="#fff" stroke="#000" stroke-width="1"/>
<rect x="543.5" y="259.5" width="81" height="26" fill="#fff" stroke="#000" stroke-width="1"/>
<rect x="542.5" y="411.5" width="82" height="26" fill="#fff" stroke="#000" stroke-width="1"/>
<rect x="399.5" y="461.5" width="95" height="27" fill="#fff" stroke="#000" stroke-width="1"/>
<rect x="276.5" y="512.5" width="56" height="27" fill="#fff" stroke="#000" stroke-width="1"/>
<rect x="672.5" y="512.5" width="86" height="27" fill="#fff" stroke="#000" stroke-width="1"/>
<rect x="550.5" y="563.5" width="66" height="26" fill="#fff" stroke="#000" stroke-width="1"/>
<rect x="419.5" y="613.5" width="53" height="27" fill="#fff" stroke="#000" stroke-width="1"/>
<rect x="678.5" y="613.5" width="74" height="27" fill="#fff" stroke="#000" stroke-width="1"/>
<rect x="811.5" y="613.5" width="93" height="27" fill="#fff" stroke="#000" stroke-width="1"/>
<rect x="546.5" y="664.5" width="74" height="27" fill="#fff" stroke="#000" stroke-width="1"/>
<text x="16.4" y="428.0" textLength="72.2" lengthAdjust="spacing">writeBlock</text>
<text x="157.6" y="427.6" textLength="40.0" lengthAdjust="spacing">fdcRw</text>
<text x="270.1" y="48.0" textLength="65.9" lengthAdjust="spacing">block2Hts</text>
<text x="275.2" y="98.7" textLength="57.5" lengthAdjust="spacing">dmaXfer</text>
<text x="411.4" y="98.9" textLength="65.2" lengthAdjust="spacing">_dmaXfer</text>
<text x="685.6" y="48.1" textLength="56.0" lengthAdjust="spacing">tty_print</text>
<text x="820.1" y="23.0" textLength="73.6" lengthAdjust="spacing">spinUnlock</text>
<text x="828.2" y="73.0" textLength="57.2" lengthAdjust="spacing">spinLock</text>
<text x="817.4" y="199.5" textLength="79.4" lengthAdjust="spacing">outportByte</text>
<text x="563.1" y="224.6" textLength="38.5" lengthAdjust="spacing">kprint</text>
<text x="688.1" y="251.0" textLength="51.3" lengthAdjust="spacing">tty_find</text>
<text x="552.9" y="275.7" textLength="58.3" lengthAdjust="spacing">motorOn</text>
<text x="552.1" y="427.9" textLength="59.5" lengthAdjust="spacing">motorOff</text>
<text x="409.0" y="478.9" textLength="71.8" lengthAdjust="spacing">recalibrate</text>
<text x="287.1" y="528.7" textLength="32.5" lengthAdjust="spacing">reset</text>
<text x="683.1" y="528.9" textLength="62.9" lengthAdjust="spacing">sendByte</text>
<text x="560.0" y="579.6" textLength="43.6" lengthAdjust="spacing">kprintf</text>
<text x="430.2" y="630.8" textLength="30.5" lengthAdjust="spacing">seek</text>
<text x="688.3" y="630.9" textLength="51.4" lengthAdjust="spacing">getByte</text>
<text x="822.0" y="630.8" textLength="69.7" lengthAdjust="spacing">inportByte</text>
<text x="555.7" y="680.4" textLength="51.3" lengthAdjust="spacing">waitFdc</text>
</svg></body></html>
